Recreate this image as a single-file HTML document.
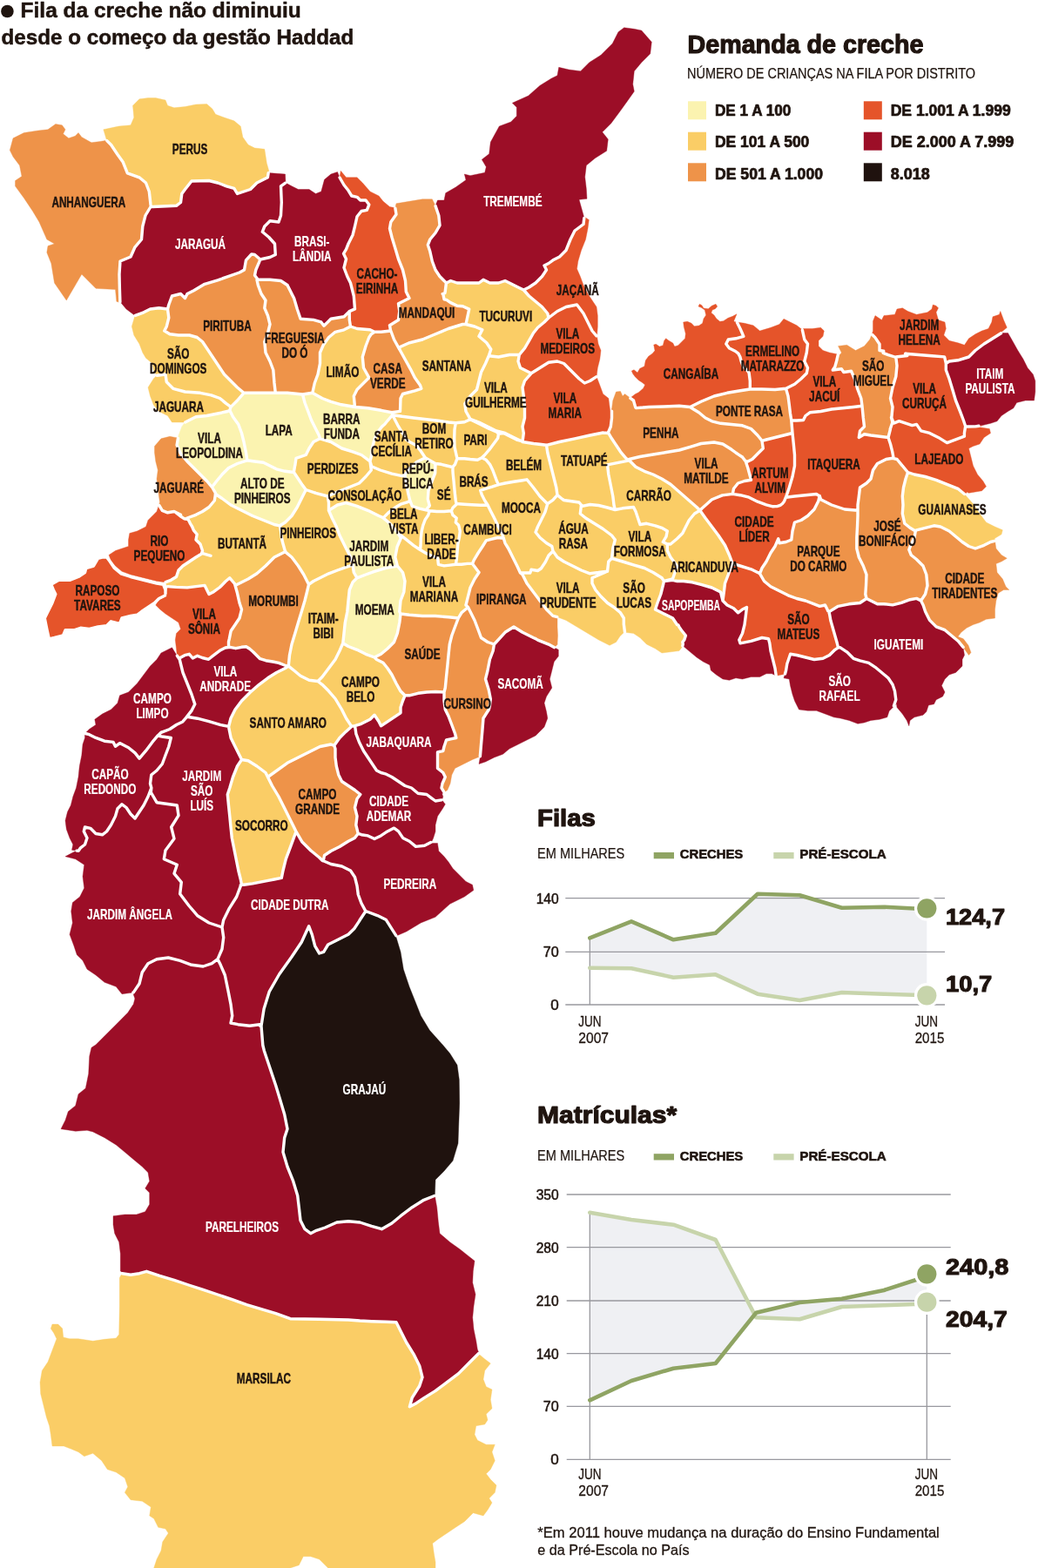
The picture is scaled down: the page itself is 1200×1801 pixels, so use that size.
<!DOCTYPE html>
<html lang="pt-BR">
<head>
<meta charset="utf-8">
<title>Demanda de creche</title>
<style>
html,body{margin:0;padding:0;background:#fff}
body{width:1200px;height:1801px;overflow:hidden}
svg{display:block}
text{font-family:"Liberation Sans",sans-serif;fill:#1f140f}
.d{stroke:#fff;stroke-width:3.4;stroke-linejoin:round;stroke-linecap:round}
.y1{fill:#FBF3B0;stroke:#FBF3B0;stroke-width:0.4px;stroke-linejoin:round}
.y2{fill:#FACD66;stroke:#FACD66;stroke-width:0.4px;stroke-linejoin:round}
.or{fill:#EE9349;stroke:#EE9349;stroke-width:0.4px;stroke-linejoin:round}
.ro{fill:#E5542A;stroke:#E5542A;stroke-width:0.4px;stroke-linejoin:round}
.dr{fill:#9C0E27;stroke:#9C0E27;stroke-width:0.4px;stroke-linejoin:round}
.bk{fill:#1F120E;stroke:#1F120E;stroke-width:0.4px;stroke-linejoin:round}
.l{font-weight:bold;font-size:17.1px;stroke:#1f140f;stroke-width:0.45px}
.w{fill:#fff;stroke:#fff;stroke-width:0.2px}
</style>
</head>
<body>
<svg width="1200" height="1801" viewBox="0 0 1200 1801">
<rect width="1200" height="1801" fill="#fff"/>
<g id="map">
<path class="or" d="M93.8,157.5 90.0,152.5 86.3,156.3 78.8,158.8 72.5,153.8 75.0,148.8 71.3,143.8 63.8,142.5 55.0,148.8 43.8,150.0 27.5,152.5 15.0,158.8 11.3,172.5 15.0,180.0 22.5,190.0 25.0,202.5 17.5,207.5 17.5,213.8 27.5,227.5 37.5,242.5 45.0,255.0 53.8,275.0 62.5,280.0 55.0,282.5 53.8,290.0 58.8,302.5 62.5,325.0 76.3,345.0 93.8,315.0 110.0,331.3 132.5,332.5 133.8,346.3 137.9,347.5 137.4,332.0 137.0,315.0 138.0,300.0 150.0,295.0 155.0,283.8 162.5,275.0 163.8,260.0 167.0,247.5 173.3,237.0 173.0,235.0 171.3,220.0 167.5,210.0 160.0,203.8 146.3,198.8 141.3,186.3 135.0,177.5 127.5,166.3 122.5,161.3 115.0,162.5 105.0,163.8Z"/>
<path class="y2" d="M303.8,171.3 292.5,170.0 285.0,166.3 278.8,157.5 276.3,145.0 268.8,138.8 257.5,135.0 247.5,131.3 243.8,125.0 237.5,119.5 225.0,120.0 212.5,122.5 200.0,123.8 192.5,121.3 190.0,115.0 178.8,112.5 170.0,112.5 160.0,113.8 152.5,121.3 153.8,135.0 150.0,143.8 136.3,145.0 118.8,148.8 122.5,161.3 127.5,166.3 135.0,177.5 141.3,186.3 146.3,198.8 160.0,203.8 167.5,210.0 171.3,220.0 173.0,235.0 173.3,237.0 175.0,237.5 202.5,236.3 207.5,232.5 208.8,222.5 212.5,217.5 220.0,208.0 240.0,207.5 250.0,210.0 260.0,213.8 268.8,216.3 272.5,222.5 287.5,217.5 295.0,210.0 307.4,203.8 308.3,198.4 308.8,196.3 306.3,187.5Z"/>
<path class="dr" d="M272.5,222.5 268.8,216.3 260.0,213.8 250.0,210.0 240.0,207.5 220.0,208.0 212.5,217.5 208.8,222.5 207.5,232.5 202.5,236.3 175.0,237.5 173.3,237.0 167.0,247.5 163.8,260.0 162.5,275.0 155.0,283.8 150.0,295.0 138.0,300.0 137.0,315.0 137.5,332.0 137.9,347.6 139.1,347.9 145.0,355.0 155.0,362.5 165.0,358.8 172.5,355.0 182.5,353.8 192.5,355.0 193.8,350.0 197.5,340.0 207.5,337.5 212.5,342.5 215.0,337.5 222.5,333.8 235.0,326.3 250.0,321.8 275.0,313.0 280.5,310.0 282.5,298.8 288.8,292.0 292.5,292.5 298.8,298.0 310.0,295.5 316.3,292.5 315.5,280.0 308.8,272.5 301.3,266.3 303.8,260.0 310.0,253.8 320.0,255.0 322.5,247.5 323.3,232.5 322.5,213.8 328.0,210.0 327.5,200.0 311.4,198.8 308.3,198.4 307.4,203.8 295.0,210.0 287.5,217.5Z"/>
<path class="dr" d="M368.8,220.0 362.5,222.5 355.0,217.5 342.5,217.5 335.0,213.8 328.0,210.0 322.5,213.8 323.3,232.5 322.5,247.5 320.0,255.0 310.0,253.8 303.8,260.0 301.3,266.3 308.8,272.5 315.5,280.0 316.3,292.5 310.0,295.5 298.8,298.0 297.5,301.3 293.8,310.0 292.5,316.3 296.3,321.3 310.0,321.3 322.5,322.5 326.7,325.3 330.0,327.5 331.3,330.0 334.8,337.1 337.6,342.5 341.3,355.0 345.1,366.2 360.0,367.4 368.8,369.9 372.0,374.2 376.3,370.0 380.0,366.3 395.0,363.8 401.2,357.6 407.5,354.9 406.3,340.0 402.5,325.0 398.8,317.5 395.0,307.5 397.5,297.5 394.5,291.3 397.5,286.3 400.0,280.0 405.0,270.0 407.5,260.0 410.0,248.8 415.0,242.5 421.3,241.3 423.8,235.0 420.0,230.0 413.8,230.0 410.0,226.3 403.8,225.0 400.0,218.8 395.0,212.5 390.0,203.8 387.5,197.5 380.0,200.0 372.5,206.3Z"/>
<path class="ro" d="M416.3,210.0 410.0,203.8 397.5,203.8 391.3,196.3 390.0,203.8 395.0,212.5 400.0,218.8 403.8,225.0 410.0,226.3 413.8,230.0 420.0,230.0 423.8,235.0 421.3,241.3 415.0,242.5 410.0,248.8 407.5,260.0 405.0,270.0 400.0,280.0 397.5,286.3 394.5,291.3 397.5,297.5 395.0,307.5 398.8,317.5 402.5,325.0 406.3,340.0 407.5,354.9 401.2,357.4 401.3,367.5 402.5,375.0 410.0,377.5 425.0,378.8 429.9,381.2 437.5,381.3 448.6,380.0 448.5,379.6 447.5,373.8 457.5,367.5 458.8,357.5 457.5,348.8 470.0,342.5 466.3,335.0 465.5,322.5 462.5,310.0 457.5,297.5 453.8,285.0 450.0,272.5 447.5,262.5 448.8,255.0 455.0,246.3 453.8,238.8 447.5,237.5 440.0,231.3 435.0,225.0 425.0,220.0Z"/>
<path class="or" d="M453.8,238.8 455.0,246.3 448.8,255.0 447.5,262.5 450.0,272.5 453.8,285.0 457.5,297.5 462.5,310.0 465.5,322.5 466.3,335.0 470.0,342.5 457.5,348.8 458.8,357.5 457.5,367.5 447.5,373.8 448.6,379.5 448.6,380.0 452.5,390.0 458.8,401.3 458.8,398.8 470.0,393.8 470.5,393.6 485.0,390.0 500.0,383.8 515.0,377.5 531.1,372.5 535.0,372.5 538.7,355.1 531.4,351.8 525.0,351.3 517.4,347.6 512.7,344.4 510.0,343.8 508.8,337.6 508.3,337.8 508.2,337.6 510.9,336.7 511.2,335.0 512.4,324.9 505.0,317.5 500.0,310.0 496.3,300.0 493.8,288.8 491.3,281.3 493.8,275.0 500.0,267.5 505.0,258.8 503.8,247.5 500.0,236.3 496.3,228.8 485.0,228.8 470.0,231.3 455.0,233.8Z"/>
<path class="dr" d="M673.3,216.7 671.7,203.3 673.3,190.0 683.3,181.7 696.7,173.3 698.3,160.0 691.7,151.7 701.7,141.7 711.7,128.3 720.0,116.7 728.3,105.0 726.7,96.7 728.3,81.7 736.7,71.7 746.7,61.7 748.3,48.3 736.7,35.0 728.3,33.3 716.7,31.7 710.0,36.7 703.3,50.0 690.0,63.3 676.7,71.7 666.7,81.7 653.3,80.0 641.7,77.3 640.0,86.7 633.3,90.0 620.0,98.3 606.7,110.0 588.3,118.3 593.3,123.3 593.3,133.3 586.7,140.0 573.3,145.0 563.3,163.3 561.7,176.7 553.3,183.3 558.3,191.7 556.7,198.3 540.0,201.7 533.3,200.0 535.0,206.7 523.3,215.0 511.7,221.7 510.0,230.0 502.5,230.0 500.0,236.3 503.8,247.5 505.0,258.8 500.0,267.5 493.8,275.0 491.3,281.3 493.8,288.8 496.3,300.0 500.0,310.0 505.0,317.5 512.4,324.9 512.5,324.5 512.6,325.0 517.5,322.5 525.0,325.0 537.5,325.0 550.0,325.0 555.0,321.3 562.5,325.0 572.5,325.0 580.0,322.5 585.0,325.0 595.0,330.0 601.3,333.0 607.5,330.0 615.0,325.0 622.5,317.5 627.5,310.0 625.0,305.0 630.0,302.5 635.0,298.8 642.5,295.0 650.0,287.5 655.0,275.0 660.0,265.0 670.0,257.5 670.8,250.0 665.0,229.3 674.0,228.3Z"/>
<path class="y2" d="M512.7,344.4 517.4,347.6 525.0,351.3 531.4,351.8 538.7,355.1 535.0,372.5 545.0,375.0 553.8,378.8 550.0,386.2 558.8,393.8 563.8,401.3 561.3,408.8 572.5,410.0 585.0,407.5 596.3,407.5 602.5,400.0 607.5,391.3 612.5,382.5 617.5,376.3 625.0,370.0 630.0,365.0 628.8,360.0 622.5,352.5 615.0,346.3 607.5,340.0 601.3,333.0 595.0,330.0 585.0,325.0 580.0,322.5 572.5,325.0 562.5,325.0 555.0,321.3 550.0,325.0 537.5,325.0 525.0,325.0 517.5,322.5 512.6,325.0 512.6,324.5 511.2,335.0 510.9,336.7 508.2,337.6 508.3,337.8 508.8,337.6 510.0,343.8Z"/>
<path class="ro" d="M685.0,352.5 680.0,345.0 675.0,337.5 670.0,327.5 666.3,317.5 662.5,308.8 663.8,300.0 667.5,287.5 672.5,275.0 675.0,262.5 676.3,252.5 672.5,250.0 670.8,250.0 670.0,257.5 660.0,265.0 655.0,275.0 650.0,287.5 642.5,295.0 635.0,298.8 630.0,302.5 625.0,305.0 627.5,310.0 622.5,317.5 615.0,325.0 607.5,330.0 601.3,333.0 607.5,340.0 615.0,346.3 622.5,352.5 628.8,360.0 630.0,365.0 640.0,357.5 650.0,352.5 662.5,350.0 670.0,360.0 675.0,370.0 680.0,380.0 685.5,386.3 686.3,375.0 686.3,362.5Z"/>
<path class="ro" d="M690.0,402.5 687.0,395.0 685.5,386.3 680.0,380.0 675.0,370.0 670.0,360.0 662.5,350.0 650.0,352.5 640.0,357.5 630.0,365.0 625.0,370.0 617.5,376.3 612.5,382.5 607.5,391.3 602.5,400.0 596.3,407.5 595.0,415.0 597.5,422.5 605.0,426.3 610.0,428.8 620.0,422.5 630.0,416.3 640.0,415.0 647.5,417.5 657.5,427.5 665.0,435.0 671.3,440.0 677.5,437.5 685.0,432.5 686.3,422.5 688.8,412.5Z"/>
<path class="ro" d="M685.0,432.5 677.5,437.5 671.3,440.0 665.0,435.0 657.5,427.5 647.5,417.5 640.0,415.0 630.0,416.3 620.0,422.5 610.0,428.8 602.5,437.5 600.0,445.0 601.3,455.0 602.5,467.5 602.5,480.0 600.0,490.0 601.3,497.5 600.0,507.5 612.5,509.5 619.7,510.3 627.5,511.3 642.5,507.5 660.0,503.8 677.5,500.0 692.5,497.0 698.2,497.5 698.7,496.1 701.3,490.0 702.5,480.0 702.5,470.0 702.6,469.5 702.2,471.9 700.7,471.9 700.0,467.0 698.8,457.5 692.5,452.5 688.8,442.5Z"/>
<path class="or" d="M297.5,301.3 298.8,298.0 292.5,292.5 288.8,292.0 282.5,298.8 280.5,310.0 275.0,313.0 250.0,321.8 235.0,326.3 222.5,333.8 215.0,337.5 212.5,342.5 207.5,337.5 197.5,340.0 193.8,350.0 192.5,355.0 193.8,365.0 191.3,375.0 188.8,380.0 195.0,383.8 205.0,385.0 217.5,385.0 226.3,387.5 232.5,392.5 237.5,400.0 242.5,407.5 247.5,415.0 252.5,422.5 257.5,430.0 265.0,437.5 272.5,445.0 280.0,451.3 292.5,451.3 305.0,451.3 316.3,451.3 315.0,440.0 313.8,425.0 310.0,415.0 305.0,405.0 303.8,392.5 307.5,382.5 310.0,372.5 307.5,362.5 303.8,353.8 305.0,345.0 300.0,337.5 296.3,327.5 295.0,321.3 296.3,321.3 292.5,316.3 293.8,310.0Z"/>
<path class="or" d="M341.3,355.0 337.6,342.5 334.9,337.0 330.0,327.5 322.5,322.5 310.0,321.3 295.0,321.3 296.3,327.5 300.0,337.5 305.0,345.0 303.8,353.8 307.5,362.5 310.0,372.5 307.5,382.5 303.8,392.5 305.0,405.0 310.0,415.0 313.8,425.0 315.0,440.0 316.3,451.3 329.5,451.3 330.0,451.3 347.5,453.0 358.8,451.3 361.3,440.0 365.0,430.0 367.5,417.5 367.5,405.0 371.3,396.3 377.5,387.5 385.0,381.3 395.0,378.8 402.5,375.0 401.3,367.5 401.3,357.5 395.0,363.8 380.0,366.3 376.3,370.0 372.0,374.2 368.8,369.9 360.0,367.4 345.1,366.2Z"/>
<path class="y2" d="M402.5,375.0 395.0,378.8 385.0,381.3 377.5,387.5 371.3,396.3 367.5,405.0 367.5,417.5 365.0,430.0 361.3,440.0 358.8,451.3 370.0,457.5 380.0,461.3 392.0,464.8 407.5,467.4 406.3,455.0 410.0,447.5 417.5,440.0 423.8,433.8 417.5,422.5 416.3,410.0 420.0,397.5 423.8,387.5 426.3,383.8 430.0,381.3 425.0,378.8 410.0,377.5Z"/>
<path class="y2" d="M257.5,430.0 252.5,422.5 247.5,415.0 242.5,407.5 237.5,400.0 232.5,392.5 226.3,387.5 217.5,385.0 205.0,385.0 195.0,383.8 188.8,380.0 191.3,375.0 193.8,365.0 192.5,355.0 182.5,353.8 172.5,355.0 165.0,358.8 155.0,362.5 151.3,375.0 153.8,385.0 160.0,395.0 163.8,405.0 167.5,411.3 175.0,417.5 176.3,425.0 180.0,431.3 190.0,430.0 191.3,438.8 198.8,446.3 212.5,450.0 230.0,451.3 242.5,453.8 252.5,457.5 259.6,463.4 265.1,467.4 272.5,460.0 280.0,451.3 272.5,445.0 265.0,437.5Z"/>
<path class="y2" d="M230.0,451.3 212.5,450.0 198.8,446.3 191.3,438.8 190.0,430.0 180.0,431.3 176.3,435.0 170.0,445.0 172.5,455.0 176.3,465.0 182.5,472.5 192.5,477.5 197.5,485.0 209.8,485.0 212.4,485.1 225.0,478.8 225.3,478.7 237.5,477.5 250.0,475.0 261.3,472.5 263.8,471.3 265.0,467.5 259.7,463.4 252.5,457.5 242.5,453.8Z"/>
<path class="y1" d="M305.0,451.3 292.5,451.3 280.0,451.3 272.5,460.0 265.0,467.5 263.8,471.3 267.5,478.8 273.8,487.5 277.5,497.5 280.0,507.5 282.5,520.0 283.8,528.8 292.5,530.0 302.5,531.3 310.0,535.0 317.5,538.8 327.5,541.3 337.4,542.5 338.7,534.5 338.8,534.7 340.0,526.3 351.3,522.5 355.0,515.0 360.0,507.5 367.5,503.8 366.3,500.0 362.5,492.5 357.5,482.5 353.8,472.5 350.0,462.5 347.5,453.0 330.0,451.3 316.3,451.3Z"/>
<path class="y1" d="M273.8,487.5 267.5,478.8 263.8,471.3 261.3,472.5 250.0,475.0 237.5,477.5 225.0,478.8 212.5,485.0 208.8,490.0 205.0,500.0 204.4,503.0 203.1,511.3 207.5,521.3 215.0,530.0 222.5,537.5 230.0,545.0 237.5,552.5 243.4,559.5 248.8,552.5 255.0,545.0 262.5,537.5 272.5,532.5 283.8,528.8 282.5,520.0 280.0,507.5 277.5,497.5Z"/>
<path class="or" d="M437.5,381.3 430.0,381.3 426.3,383.8 423.8,387.5 420.0,397.5 416.3,410.0 417.5,422.5 423.8,433.8 417.5,440.0 410.0,447.5 406.3,455.0 407.5,467.4 408.0,467.5 422.5,468.8 437.5,471.3 449.9,473.7 459.5,472.4 460.0,457.5 462.5,452.5 476.3,448.8 483.8,446.3 482.5,442.5 476.3,433.8 471.3,423.8 465.0,412.5 458.8,401.3 452.5,390.0 448.8,380.0Z"/>
<path class="y2" d="M553.8,378.8 545.0,375.0 535.0,372.5 531.3,372.5 515.0,377.5 500.0,383.8 485.0,390.0 470.0,393.8 458.8,398.8 458.8,401.3 465.0,412.5 471.3,423.8 476.3,433.8 482.5,442.5 483.8,446.3 476.3,448.8 462.5,452.5 460.0,457.5 459.5,472.4 449.9,473.7 451.0,476.7 461.7,478.3 475.0,480.0 490.0,481.7 503.3,483.3 515.0,485.0 523.3,485.8 533.3,484.7 540.0,481.7 546.7,485.0 553.3,488.3 561.7,492.5 570.0,495.8 572.5,498.3 578.3,497.5 586.7,501.7 593.3,505.0 597.2,506.1 590.0,502.5 580.0,497.5 570.0,495.0 560.0,490.0 550.0,485.0 540.0,481.3 535.0,472.5 533.8,463.8 540.0,455.0 547.5,447.5 550.0,437.5 552.5,427.5 557.5,417.5 561.3,408.8 563.8,401.3 558.8,393.8 550.0,386.3Z"/>
<path class="y2" d="M602.5,480.0 602.5,467.5 601.3,455.0 600.0,445.0 602.5,437.5 610.0,428.8 605.0,426.3 597.5,422.5 595.0,415.0 596.3,407.5 585.0,407.5 572.5,410.0 561.3,408.8 557.5,417.5 552.5,427.5 550.0,437.5 547.5,447.5 540.0,455.0 533.8,463.8 535.0,472.5 540.0,481.3 550.0,485.0 560.0,490.0 570.0,495.0 580.0,497.5 590.0,502.5 597.2,506.1 599.2,506.7 600.0,507.5 601.3,497.5 600.0,490.0Z"/>
<path class="y1" d="M380.0,461.3 370.0,457.5 358.8,451.3 347.5,453.0 350.0,462.5 353.8,472.5 357.5,482.5 362.5,492.5 366.3,500.0 367.5,503.8 380.0,507.5 392.5,515.0 405.0,518.8 415.0,522.5 424.9,529.9 426.2,525.0 427.4,515.0 429.9,505.0 433.7,496.2 438.7,489.9 441.8,487.3 445.0,483.3 450.8,476.7 450.0,473.8 437.5,471.3 422.5,468.8 408.0,467.5 392.0,464.8Z"/>
<path class="y2" d="M426.2,525.0 424.9,529.9 426.7,535.8 436.7,540.0 450.0,544.2 461.7,546.7 465.0,545.0 470.0,538.3 478.3,530.8 488.3,525.8 483.3,518.3 478.3,511.7 471.7,508.3 466.7,505.0 461.7,496.7 456.7,488.3 453.3,481.7 450.8,476.7 445.0,483.3 441.8,487.3 438.7,489.9 433.7,496.2 429.9,505.0 427.4,515.0Z"/>
<path class="y2" d="M490.0,481.7 475.0,480.0 461.7,478.3 450.8,476.7 453.3,481.7 456.7,488.3 461.7,496.7 466.7,505.0 471.7,508.3 478.3,511.7 483.3,518.3 488.3,525.8 500.0,532.5 506.7,533.3 513.3,535.0 519.7,536.6 522.5,533.3 525.0,526.7 524.2,523.3 522.0,513.3 521.7,503.3 522.0,493.3 523.3,485.8 515.0,485.0 503.3,483.3Z"/>
<path class="y2" d="M553.3,488.3 546.7,485.0 540.0,481.7 533.3,484.7 523.3,485.8 522.0,493.3 521.7,503.3 522.0,513.3 524.2,523.3 525.0,526.7 533.3,526.7 540.0,527.5 548.3,528.3 553.3,525.8 556.7,522.5 561.7,516.7 566.7,510.0 571.7,503.3 572.5,498.3 570.0,495.8 561.7,492.5Z"/>
<path class="y2" d="M533.3,526.7 525.0,526.7 522.5,533.3 519.7,536.6 520.0,536.7 519.9,539.5 520.1,543.3 521.0,552.2 521.7,560.0 522.5,568.3 523.3,575.0 524.2,579.2 526.7,578.7 533.3,579.2 541.7,579.7 551.7,580.3 560.0,580.0 556.7,575.0 553.3,568.3 551.7,563.3 556.7,561.7 565.0,559.2 572.5,556.7 570.8,553.3 568.3,546.7 565.8,540.0 562.5,533.3 558.3,528.3 553.3,525.8 548.3,528.3 540.0,527.5Z"/>
<path class="y2" d="M519.9,539.5 520.0,536.7 513.3,535.0 506.7,533.3 500.0,532.5 499.7,543.3 495.8,553.3 492.0,563.3 491.3,573.3 493.3,580.8 489.2,585.8 493.3,586.7 501.7,587.5 510.0,587.5 518.3,586.7 520.0,583.3 524.2,579.2 523.3,575.0 522.5,568.3 521.7,560.0 520.9,552.2 520.1,543.3Z"/>
<path class="y1" d="M492.0,563.3 495.8,553.3 499.7,543.3 500.0,532.5 488.3,525.8 478.3,530.8 470.0,538.3 465.0,545.0 465.8,552.5 467.5,560.0 468.7,566.7 470.8,575.0 473.3,581.3 481.7,584.2 489.2,585.8 493.3,580.8 491.3,573.3Z"/>
<path class="y2" d="M456.4,611.4 458.4,613.3 466.7,619.9 475.1,626.6 482.5,631.6 483.0,626.7 483.3,618.3 484.2,610.0 485.8,603.3 488.3,596.7 491.7,591.7 493.3,586.7 489.2,585.8 481.7,584.2 473.3,581.3 470.8,575.0 468.3,576.7 460.0,579.2 453.3,583.3 446.7,588.3 440.1,594.9 448.3,601.8Z"/>
<path class="y2" d="M493.3,586.7 491.7,591.7 488.3,596.7 485.8,603.3 484.2,610.0 483.3,618.3 483.0,626.7 482.5,631.6 488.4,634.9 495.0,638.2 502.6,640.8 503.4,648.3 510.0,649.9 516.7,649.1 523.3,648.2 524.2,643.3 525.0,635.0 525.8,625.0 527.5,616.7 528.3,610.0 526.7,603.3 523.3,600.0 524.2,595.0 520.0,591.7 518.3,586.7 510.0,587.5 501.7,587.5Z"/>
<path class="y2" d="M533.3,579.2 526.7,578.7 524.2,579.2 520.0,583.3 518.3,586.7 520.0,591.7 524.2,595.0 523.3,600.0 526.7,603.3 528.3,610.0 527.5,616.7 525.8,625.0 525.0,635.0 524.2,643.3 523.4,648.2 530.0,648.2 536.7,647.4 542.5,647.4 544.2,643.3 549.2,635.0 554.2,627.5 558.3,620.8 565.0,619.2 571.7,617.5 578.3,618.3 576.7,613.3 573.3,606.7 570.0,600.0 566.7,593.3 563.3,586.7 560.0,580.0 551.7,580.3 541.7,579.7Z"/>
<path class="y2" d="M380.0,507.5 367.5,503.8 360.0,507.5 355.0,515.0 351.3,522.5 340.0,526.3 338.8,534.7 338.7,534.5 337.4,542.5 342.5,550.0 347.2,557.1 351.3,562.5 362.5,566.3 376.3,570.0 387.5,565.0 400.0,560.0 412.5,555.0 420.0,547.5 426.3,540.0 425.0,530.0 415.0,522.5 405.0,518.8 392.5,515.0Z"/>
<path class="y2" d="M460.0,579.2 468.3,576.7 470.8,575.0 468.7,566.7 467.5,560.0 465.8,552.5 465.0,545.0 461.7,546.7 450.0,544.2 436.7,540.0 426.7,535.8 425.0,530.0 426.3,540.0 420.0,547.5 412.5,555.0 400.0,560.0 387.5,565.0 376.3,570.0 377.5,577.5 377.5,586.3 387.5,580.0 397.5,577.5 410.0,581.3 422.5,586.3 435.0,592.5 439.3,594.3 440.1,594.9 446.7,588.3 453.3,583.3Z"/>
<path class="y1" d="M347.3,557.0 342.5,550.0 337.5,542.5 327.5,541.3 317.5,538.8 310.0,535.0 302.5,531.3 292.5,530.0 283.8,528.8 272.5,532.5 262.5,537.5 255.0,545.0 248.8,552.5 243.4,559.5 243.8,560.0 247.5,566.3 247.2,568.7 247.5,567.5 255.0,572.5 265.0,580.0 277.5,586.3 290.0,592.5 302.5,597.5 315.0,602.5 321.3,603.8 327.5,600.0 335.0,592.5 341.3,582.5 346.0,572.9 346.3,572.5 351.3,562.5Z"/>
<path class="y2" d="M362.5,566.3 351.3,562.5 346.3,572.5 341.3,582.5 335.0,592.5 327.5,600.0 321.3,603.8 322.5,610.0 323.7,619.5 325.1,625.0 327.6,633.6 327.9,633.5 327.6,633.8 335.0,640.0 342.5,650.0 348.8,660.0 354.5,671.3 360.0,667.5 367.5,663.8 377.5,658.8 387.5,655.0 397.5,651.3 405.0,648.8 402.5,640.0 397.5,630.0 393.8,622.5 390.0,615.0 386.3,605.0 381.3,595.0 377.5,586.3 377.5,577.5 376.3,570.0Z"/>
<path class="y1" d="M439.3,594.3 435.0,592.5 422.5,586.3 410.0,581.3 397.5,577.5 387.5,580.0 377.5,586.3 381.3,595.0 386.3,605.0 390.0,615.0 393.8,622.5 397.5,630.0 402.5,640.0 405.0,648.8 406.3,657.5 410.0,663.8 420.0,660.0 430.0,656.3 442.5,652.5 456.3,650.0 453.8,640.0 456.1,628.0 460.4,618.0 456.4,611.4 448.3,601.8Z"/>
<path class="y1" d="M410.0,663.8 405.0,668.8 401.3,677.5 400.0,690.0 398.8,702.5 396.3,715.0 395.0,727.5 393.8,738.8 400.0,742.5 410.0,746.3 420.0,751.3 430.0,755.0 437.5,751.3 445.0,745.0 452.5,737.5 456.3,727.5 458.8,715.0 460.0,705.0 458.8,702.5 460.0,690.0 463.8,680.0 465.0,667.5 462.5,657.5 456.3,650.0 442.5,652.5 430.0,656.3 420.0,660.0Z"/>
<path class="y2" d="M398.8,702.5 400.0,690.0 401.3,677.5 405.0,668.8 410.0,663.8 406.3,657.5 405.0,648.8 397.5,651.3 387.5,655.0 377.5,658.8 367.5,663.8 360.0,667.5 354.5,671.3 352.5,680.0 350.0,690.0 346.3,702.5 342.5,715.0 338.8,727.5 335.0,740.0 332.5,752.5 331.3,764.9 331.6,764.9 331.3,765.1 337.5,770.0 345.0,776.3 355.0,781.3 365.0,782.5 370.0,777.5 377.5,767.5 385.0,757.5 390.0,747.5 393.8,738.8 395.0,727.5 396.3,715.0Z"/>
<path class="or" d="M264.0,743.3 270.7,744.7 277.3,743.3 282.7,742.7 286.7,745.3 290.7,748.7 294.7,752.7 298.7,756.7 305.3,758.7 313.3,760.0 320.0,761.3 326.7,764.0 329.2,764.9 331.3,764.9 332.5,752.5 335.0,740.0 338.8,727.5 342.5,715.0 346.3,702.5 350.0,690.0 352.5,680.0 354.5,671.3 348.8,660.0 342.5,650.0 335.0,640.0 327.6,633.9 327.7,634.2 327.4,633.8 315.0,640.0 305.0,650.0 295.0,658.8 285.0,665.0 275.0,670.0 270.1,672.5 272.5,681.3 275.0,692.5 277.5,700.0 275.0,710.0 270.0,717.5 265.1,724.8 263.4,733.4 262.5,737.1 262.5,743.5Z"/>
<path class="y2" d="M453.8,640.0 456.3,650.0 462.5,657.5 465.0,667.5 463.8,680.0 460.0,690.0 458.8,702.5 460.0,705.0 470.0,706.3 485.0,707.5 500.0,707.5 515.0,708.8 526.3,710.0 529.8,704.0 530.0,703.8 537.5,697.5 535.0,695.0 537.5,685.0 540.0,675.0 545.0,665.0 549.9,657.6 542.5,647.5 536.7,647.4 530.0,648.2 523.3,648.2 516.7,649.1 510.0,649.9 503.4,648.3 502.6,640.8 495.0,638.2 488.4,634.9 482.6,631.6 475.1,626.6 466.7,619.9 458.4,613.3 456.5,611.3 460.4,618.0 456.0,627.9Z"/>
<path class="or" d="M470.0,706.3 460.0,705.0 458.8,715.0 456.3,727.5 452.5,737.5 445.0,745.0 437.5,751.3 430.0,755.0 432.5,757.5 440.0,761.3 445.0,767.5 450.0,775.0 455.0,785.0 460.0,793.8 464.9,798.7 470.0,798.8 480.0,796.3 490.0,795.0 500.0,794.5 510.0,795.0 511.3,790.0 512.5,777.5 513.8,765.0 515.0,752.5 516.3,740.0 518.8,730.0 522.5,720.0 526.3,710.0 515.0,708.8 500.0,707.5 485.0,707.5Z"/>
<path class="y2" d="M450.0,775.0 445.0,767.5 440.0,761.3 432.5,757.5 430.0,755.0 420.0,751.3 410.0,746.3 400.0,742.5 393.8,738.8 390.0,747.5 385.0,757.5 377.5,767.5 370.0,777.5 365.0,782.5 370.0,786.3 377.5,793.8 385.0,802.5 392.5,815.0 397.5,825.0 403.7,834.4 407.6,833.6 415.0,831.3 425.0,826.3 430.0,821.3 435.0,828.8 437.5,833.8 445.0,828.8 452.5,823.8 460.0,818.8 460.0,812.5 462.5,805.0 465.0,798.8 460.0,793.8 455.0,785.0Z"/>
<path class="ro" d="M843.2,369.5 842.7,368.7 846.0,360.7 841.3,363.3 836.0,365.3 830.7,368.7 826.7,369.3 822.7,366.0 820.0,362.0 816.7,359.3 818.0,356.0 821.3,354.7 823.7,352.0 822.0,349.3 817.3,351.3 813.3,354.7 808.0,354.0 806.0,350.7 803.3,349.3 802.0,352.0 805.3,353.3 809.3,356.0 810.7,362.0 808.0,366.0 806.7,371.3 802.7,374.0 797.3,374.7 794.0,371.3 789.3,369.3 784.7,370.0 785.3,375.3 787.3,383.3 786.7,388.7 782.7,392.7 778.7,396.7 774.7,398.0 772.7,394.0 768.0,391.3 764.7,388.7 762.7,391.3 761.3,396.7 757.3,398.0 753.3,395.3 750.7,396.0 752.0,402.7 749.3,406.0 744.7,409.3 741.3,414.0 740.0,420.7 734.7,423.3 732.0,428.0 728.0,424.7 725.3,426.0 726.7,429.3 729.3,432.7 733.3,436.7 737.3,439.3 740.7,442.0 738.7,446.0 733.3,450.7 729.3,452.7 726.1,455.3 723.6,457.1 727.5,460.0 729.0,465.3 729.4,466.7 729.9,468.2 730.5,468.6 738.4,468.0 738.7,467.9 739.3,468.0 745.0,467.5 762.5,467.0 780.0,466.3 792.5,467.5 805.0,461.3 820.0,455.0 835.0,451.3 850.0,448.8 861.3,447.0 861.3,437.5 860.1,428.3 858.6,426.1 855.0,422.5 853.2,420.7 851.3,415.5 851.0,414.5 849.9,410.0 847.9,406.1 844.6,403.5 837.7,400.1 837.5,400.0 833.8,395.0 836.3,390.0 845.0,388.8 853.8,386.3 852.8,384.1 851.6,381.1 850.0,377.5 846.3,370.0Z"/>
<path class="ro" d="M872.5,380.0 865.0,373.8 855.0,371.3 846.3,370.0 850.0,377.5 853.8,386.3 845.0,388.8 836.3,390.0 833.8,395.0 837.5,400.0 844.5,403.5 847.9,406.1 849.9,410.0 851.0,414.5 851.2,415.4 853.2,420.7 855.0,422.4 858.6,426.1 860.1,428.3 861.3,437.5 861.3,447.0 875.0,447.0 890.0,447.5 902.5,446.3 912.5,441.3 920.0,435.0 926.3,428.8 927.5,422.5 923.8,415.0 926.3,405.0 927.5,395.0 923.8,390.0 921.3,378.8 915.0,373.8 907.5,370.0 900.0,366.3 895.0,372.5 885.0,376.3Z"/>
<path class="or" d="M850.0,448.8 835.0,451.3 820.0,455.0 805.0,461.3 792.5,467.5 796.3,470.0 802.5,473.8 810.0,480.0 817.5,483.8 827.5,486.3 840.0,487.5 852.5,488.8 862.5,492.5 870.0,500.0 875.0,506.3 880.0,505.0 890.0,502.5 900.0,500.0 909.9,497.5 908.8,483.0 907.5,475.0 906.3,465.0 905.0,455.0 902.5,446.3 890.0,447.5 875.0,447.0 861.3,447.0Z"/>
<path class="or" d="M729.9,468.2 729.5,466.6 727.5,460.0 717.5,452.5 715.0,455.0 712.5,449.5 707.5,450.0 703.8,460.0 702.5,470.0 702.5,480.0 701.3,490.0 698.8,496.1 698.2,497.5 698.8,497.5 702.5,503.8 707.5,511.3 712.5,518.8 718.8,526.3 722.5,528.8 723.8,530.0 722.5,527.5 735.0,524.5 750.0,522.0 765.0,519.5 780.0,517.0 792.5,513.3 805.0,509.5 820.0,508.0 830.0,510.0 840.0,516.3 845.0,520.0 845.4,520.3 850.0,523.3 852.5,525.0 856.3,530.0 858.8,530.0 863.8,527.5 870.0,521.3 876.3,515.0 875.0,506.3 870.0,500.0 862.5,492.5 852.5,488.8 840.0,487.5 827.5,486.3 817.5,483.8 810.0,480.0 802.5,473.8 796.3,470.0 792.5,467.5 780.0,466.3 762.5,467.0 745.0,467.5 739.3,468.0 738.7,467.9 738.4,468.0 730.5,468.6Z"/>
<path class="or" d="M820.0,508.0 805.0,509.5 792.5,513.3 780.0,517.0 765.0,519.5 750.0,522.0 735.0,524.5 722.5,527.5 723.8,530.0 727.3,533.5 730.0,536.3 740.0,541.3 750.0,545.0 760.0,550.0 770.0,556.3 780.0,565.0 790.0,573.8 800.0,582.5 803.8,586.3 806.3,583.8 817.5,573.8 829.5,568.9 841.3,567.4 842.5,561.3 847.5,555.0 855.0,552.5 862.5,551.3 858.8,537.5 856.3,530.0 852.5,525.0 845.0,520.0 840.0,516.3 830.0,510.0Z"/>
<path class="ro" d="M880.0,505.0 875.0,506.3 876.3,515.0 870.0,521.3 863.8,527.5 858.8,530.0 856.3,530.0 858.8,537.5 862.5,551.3 855.0,552.5 847.5,555.0 842.5,561.3 841.3,567.4 850.0,568.7 860.0,571.2 870.0,576.2 880.0,579.9 887.6,581.8 890.6,581.6 893.0,581.4 896.0,580.4 898.5,578.5 900.6,575.7 902.4,571.2 903.8,567.5 906.3,560.0 910.0,547.5 912.5,535.0 912.5,522.5 911.3,510.0 910.0,497.5 900.0,500.0 890.0,502.5Z"/>
<path class="y2" d="M702.5,503.8 698.8,497.5 692.5,497.0 677.5,500.0 660.0,503.8 642.5,507.5 627.5,511.3 628.8,520.0 631.3,530.0 633.8,540.0 636.3,550.0 638.8,560.0 640.0,568.6 646.0,573.5 646.2,573.6 647.5,574.5 665.0,577.0 667.5,580.0 668.8,581.3 677.5,579.5 687.5,580.5 697.5,583.0 706.3,585.5 705.0,580.0 703.8,570.0 701.3,557.5 698.8,545.0 697.5,533.8 710.0,531.3 722.5,528.8 718.8,526.3 712.5,518.8 707.5,511.3Z"/>
<path class="y2" d="M636.3,550.0 633.8,540.0 631.3,530.0 628.8,520.0 627.5,511.3 612.5,509.5 600.0,507.5 599.2,506.7 593.3,505.0 586.7,501.7 578.3,497.5 572.5,498.3 571.7,503.3 566.7,510.0 561.7,516.7 556.7,522.5 553.3,525.8 558.3,528.3 562.5,533.3 565.8,540.0 568.3,546.7 570.8,553.3 572.5,556.7 580.0,555.0 590.0,553.3 600.0,551.7 605.0,550.8 612.5,560.0 620.0,570.0 628.7,578.7 634.9,574.4 640.0,568.6 638.8,560.0Z"/>
<path class="y2" d="M605.0,550.8 600.0,551.7 590.0,553.3 580.0,555.0 572.5,556.7 565.0,559.2 556.7,561.7 551.7,563.3 553.3,568.3 556.7,575.0 560.0,580.0 563.3,586.7 566.7,593.3 570.0,600.0 573.3,606.7 576.7,613.3 578.3,618.3 580.0,623.8 583.8,630.0 588.8,640.0 593.8,650.0 597.5,658.0 608.8,658.0 610.0,654.3 617.5,655.5 621.3,653.0 626.3,645.5 630.0,638.0 635.0,633.0 633.8,627.5 627.5,623.8 620.0,617.5 615.0,611.3 617.5,605.0 621.3,597.5 626.0,588.0 628.7,578.7 620.0,570.0 612.5,560.0Z"/>
<path class="y2" d="M626.0,588.0 621.3,597.5 617.5,605.0 615.0,611.3 620.0,617.5 627.5,623.8 633.8,627.5 635.0,633.0 640.0,640.0 647.5,645.0 657.5,650.0 667.5,655.0 677.5,658.8 687.0,657.6 687.5,657.5 697.5,656.3 698.8,645.0 702.5,641.3 703.8,630.0 703.9,629.5 706.3,620.0 702.5,615.0 692.5,607.5 682.5,601.3 672.5,595.0 666.3,590.0 667.5,580.0 665.0,577.0 647.5,574.5 646.1,573.5 640.0,568.6 634.9,574.4 628.7,578.7 626.0,587.9Z"/>
<path class="y2" d="M780.0,565.0 770.0,556.3 760.0,550.0 750.0,545.0 740.0,541.3 730.0,536.3 722.5,528.8 710.0,531.3 697.5,533.8 698.8,545.0 701.3,557.5 703.8,570.0 705.0,580.0 706.3,585.5 715.0,583.8 727.5,582.5 730.0,587.5 732.5,595.0 735.0,602.5 742.5,601.3 752.5,603.8 760.0,606.3 766.3,610.0 765.0,616.3 761.3,622.5 766.3,625.0 770.0,625.0 777.5,618.8 783.8,612.5 787.5,605.0 791.3,597.5 797.5,590.0 803.8,586.3 800.0,582.5 790.0,573.8Z"/>
<path class="y2" d="M766.3,610.0 760.0,606.3 752.5,603.8 742.5,601.3 735.0,602.5 732.5,595.0 730.0,587.5 727.5,582.5 715.0,583.8 706.3,585.5 697.5,583.0 687.5,580.5 677.5,579.5 668.8,581.3 667.5,580.0 666.3,590.0 672.5,595.0 682.5,601.3 692.5,607.5 702.5,615.0 706.3,620.0 703.8,630.0 702.5,641.3 715.0,645.0 727.5,648.8 740.0,652.5 750.0,657.5 760.0,663.8 762.4,667.4 772.5,664.9 775.0,657.5 777.5,650.0 770.0,640.0 766.3,632.5 766.3,625.0 761.3,622.5 765.0,616.3Z"/>
<path class="y2" d="M787.5,605.0 783.8,612.5 777.5,618.8 770.0,625.0 766.3,625.0 766.3,632.5 770.0,640.0 777.5,650.0 775.0,657.5 772.5,664.9 762.4,667.4 772.5,666.3 777.5,667.5 785.0,667.5 795.0,668.8 805.0,671.3 817.5,675.0 827.5,680.0 830.0,690.0 831.3,680.0 832.5,670.0 836.3,660.0 838.8,652.5 839.0,652.1 841.3,647.5 837.5,637.5 832.5,626.3 825.0,615.0 817.5,605.0 810.0,595.0 803.8,586.3 797.5,590.0 791.3,597.5Z"/>
<path class="y2" d="M697.5,692.5 705.0,697.5 712.5,703.8 716.3,710.0 716.3,717.0 717.6,726.3 727.5,727.5 735.0,732.5 742.5,740.0 752.5,745.0 760.0,750.0 770.0,748.8 780.0,747.5 783.4,743.0 784.3,739.8 783.8,737.5 785.7,735.2 787.4,730.0 782.4,723.8 779.9,720.1 778.9,717.9 777.5,717.6 774.6,713.2 772.5,710.0 765.0,706.3 755.0,701.3 753.2,700.4 752.5,700.0 755.0,692.5 758.8,682.5 760.0,677.5 761.3,672.5 762.5,667.5 760.0,663.8 750.0,657.5 740.0,652.5 727.5,648.8 715.0,645.0 702.5,641.3 698.8,645.0 697.5,656.3 680.0,663.8 680.0,670.0 683.8,677.5 690.0,685.0Z"/>
<path class="y2" d="M687.5,735.0 700.0,741.3 707.5,737.5 712.0,730.8 716.6,726.2 717.6,726.4 716.3,717.0 716.3,710.0 712.5,703.8 705.0,697.5 697.5,692.5 690.0,685.0 683.8,677.5 680.0,670.0 680.0,663.8 697.5,656.3 687.5,657.5 677.5,658.8 667.5,655.0 657.5,650.0 647.5,645.0 640.0,640.0 635.0,633.0 630.0,638.0 626.3,645.5 621.3,653.0 617.5,655.5 610.0,654.3 608.8,658.0 597.5,658.0 600.0,660.0 605.0,670.0 612.5,680.0 620.0,690.0 627.5,700.0 634.9,707.4 640.1,708.7 650.0,712.5 662.5,720.0 675.0,727.5Z"/>
<path class="ro" d="M937.5,567.5 941.2,569.9 941.2,569.6 942.6,573.8 955.0,580.0 970.0,585.0 985.0,586.3 985.0,580.0 986.3,570.0 987.5,560.0 995.0,555.0 1000.0,550.0 1002.5,540.0 1007.5,532.5 1017.5,527.5 1025.0,526.3 1026.1,526.2 1024.8,519.5 1024.9,519.7 1022.5,510.0 1020.0,502.5 1010.0,501.3 1000.0,500.0 992.5,498.8 986.3,502.5 987.5,495.0 992.5,490.0 991.3,480.0 990.0,466.3 980.0,467.5 967.5,468.8 955.0,470.0 942.5,472.5 930.0,473.8 925.0,477.5 922.5,482.5 915.0,483.0 908.8,483.0 910.0,497.5 911.3,510.0 912.5,522.5 912.5,535.0 910.0,547.5 906.3,560.0 903.8,567.5 902.5,571.3 912.5,570.0 925.0,568.8Z"/>
<path class="ro" d="M945.0,402.5 940.0,397.5 940.0,391.3 945.0,386.3 946.3,380.0 942.5,376.3 932.5,377.5 922.5,377.5 921.3,378.8 923.8,390.0 927.5,395.0 926.3,405.0 923.8,415.0 927.5,422.5 926.3,428.8 920.0,435.0 912.5,441.3 902.5,446.3 905.0,455.0 906.3,465.0 907.5,475.0 908.8,483.0 915.0,483.0 922.5,482.5 925.0,477.5 930.0,473.8 942.5,472.5 955.0,470.0 967.5,468.8 980.0,467.5 990.0,466.3 988.8,457.5 985.0,447.5 981.3,435.0 977.5,426.3 968.8,427.5 966.3,423.8 956.3,425.0 958.8,421.3 961.1,413.0 962.4,407.0 952.5,405.0Z"/>
<path class="or" d="M958.8,421.3 956.3,425.0 966.3,423.8 968.8,427.5 977.5,426.3 981.3,435.0 985.0,447.5 988.8,457.5 990.0,466.3 991.3,480.0 992.5,490.0 987.5,495.0 986.3,502.5 992.5,498.8 1000.0,500.0 1010.0,501.3 1020.0,502.5 1022.4,493.0 1022.2,492.9 1024.9,485.0 1023.5,479.5 1023.8,479.8 1025.0,467.5 1022.5,457.5 1025.0,445.0 1028.8,432.5 1030.0,420.3 1030.0,420.0 1028.8,410.1 1027.8,410.1 1027.5,410.0 1020.0,407.6 1014.1,405.4 1014.7,403.2 1010.0,402.5 1010.0,395.2 1004.9,387.6 1001.2,383.9 998.8,390.0 992.5,397.5 982.5,402.5 972.5,396.3 962.5,397.5 966.3,405.0 964.7,407.3 962.4,406.9 961.0,413.0Z"/>
<path class="ro" d="M1001.1,383.8 1004.9,387.6 1010.0,395.2 1010.0,402.5 1014.7,403.2 1014.1,405.4 1020.0,407.6 1027.5,410.1 1027.8,410.1 1028.8,410.0 1039.5,408.8 1041.8,408.5 1041.8,406.5 1039.5,406.3 1070.0,408.7 1084.6,409.9 1085.1,412.1 1086.3,417.5 1090.0,415.0 1100.0,413.8 1112.5,410.0 1120.0,402.5 1130.0,395.0 1140.0,388.8 1150.0,382.5 1150.3,382.4 1148.7,382.4 1150.4,381.0 1156.3,376.3 1152.5,367.5 1148.8,357.5 1147.5,361.3 1140.0,363.8 1138.8,370.0 1135.0,377.5 1127.5,380.0 1120.0,383.8 1112.5,388.8 1107.5,396.3 1100.0,393.8 1090.0,391.3 1083.8,385.0 1086.3,377.5 1085.0,370.0 1077.5,367.5 1075.0,358.8 1077.5,353.8 1075.0,351.3 1071.3,350.0 1070.0,355.0 1065.0,358.8 1052.5,361.3 1042.5,357.5 1036.3,353.8 1030.0,355.0 1027.5,361.3 1015.0,362.5 1012.5,367.5 1005.0,362.5 1002.5,368.8 1002.5,379.4 1002.4,379.7 1002.4,380.6Z"/>
<path class="dr" d="M1145.0,483.8 1150.0,477.5 1157.5,472.5 1163.8,468.8 1167.5,462.5 1177.5,460.0 1187.5,460.0 1188.8,450.0 1188.8,437.5 1186.3,430.0 1180.0,422.5 1175.0,412.5 1168.8,402.5 1162.5,391.3 1157.5,382.5 1150.0,382.5 1140.0,388.8 1130.0,395.0 1120.0,402.5 1112.5,410.0 1100.0,413.8 1090.0,415.0 1086.3,417.5 1086.3,425.0 1090.0,435.0 1093.8,447.5 1097.5,460.0 1102.5,472.5 1106.3,482.5 1108.8,490.0 1110.0,490.0 1120.0,489.9 1128.0,488.6 1137.5,486.3Z"/>
<path class="ro" d="M1039.5,406.3 1041.8,406.5 1041.8,408.5 1039.5,408.7 1028.8,410.0 1030.0,420.0 1028.8,432.5 1025.0,445.0 1022.5,457.5 1025.0,467.5 1023.8,479.8 1026.3,486.1 1032.5,483.6 1047.5,488.6 1052.5,487.4 1057.6,494.9 1067.5,497.4 1077.5,502.4 1087.5,508.6 1107.4,501.2 1107.4,497.5 1107.6,496.1 1108.6,490.0 1106.3,482.5 1102.5,472.5 1097.5,460.0 1093.8,447.5 1090.0,435.0 1086.3,425.0 1086.3,417.5 1085.0,412.1 1084.6,409.9 1070.0,408.7 1039.5,406.1Z"/>
<path class="ro" d="M1107.6,496.1 1107.4,497.5 1107.4,501.2 1087.5,508.6 1077.5,502.4 1067.5,497.4 1057.6,494.9 1052.5,487.4 1047.5,488.6 1032.5,483.6 1026.3,486.1 1023.7,479.5 1024.9,485.0 1022.2,492.9 1022.4,493.0 1020.0,502.5 1022.5,510.0 1024.9,519.7 1024.8,519.5 1026.1,526.2 1025.2,526.3 1030.0,527.5 1035.9,534.6 1036.3,535.0 1042.5,542.5 1050.0,545.0 1062.5,547.5 1075.0,551.3 1087.5,556.3 1100.0,561.3 1107.5,567.5 1107.8,567.9 1110.5,565.3 1112.5,566.3 1120.0,565.0 1127.5,563.8 1132.5,558.8 1128.8,552.5 1122.5,545.0 1117.5,535.0 1115.0,525.0 1112.5,515.0 1117.5,512.5 1125.0,510.0 1130.0,502.5 1137.5,497.5 1136.3,492.5 1128.0,491.3 1121.7,490.3 1128.0,488.7 1120.0,489.9 1110.0,489.9 1108.6,490.0Z"/>
<path class="y2" d="M1151.3,608.8 1142.5,605.0 1132.5,600.0 1125.0,590.0 1117.5,578.8 1107.5,567.5 1100.0,561.3 1087.5,556.3 1075.0,551.3 1062.5,547.5 1050.0,545.0 1042.5,542.5 1040.0,550.0 1037.5,560.0 1036.3,570.0 1037.0,580.0 1036.3,590.0 1038.8,601.3 1045.0,606.3 1051.3,610.0 1052.5,608.8 1062.5,606.3 1072.5,603.8 1080.0,605.0 1090.0,610.0 1097.5,616.3 1105.0,622.5 1112.5,627.5 1120.0,630.0 1130.0,626.3 1137.5,622.5 1142.5,621.3 1142.2,618.4 1143.8,617.5 1150.0,613.8Z"/>
<path class="or" d="M1112.5,752.5 1115.0,749.5 1112.0,741.3 1106.3,733.8 1100.0,731.3 1103.8,726.3 1110.0,721.3 1117.5,717.5 1125.0,715.0 1132.5,711.3 1142.5,710.0 1142.5,700.0 1143.8,690.0 1146.3,681.3 1152.5,677.5 1158.8,677.5 1155.0,673.8 1151.3,665.0 1145.0,657.5 1143.8,647.5 1150.0,645.0 1156.3,641.3 1150.0,637.5 1143.8,630.0 1142.5,621.3 1137.5,622.5 1130.0,626.3 1120.0,630.0 1112.5,627.5 1105.0,622.5 1097.5,616.3 1090.0,610.0 1080.0,605.0 1072.5,603.8 1062.5,606.3 1052.5,608.8 1051.3,610.0 1050.0,617.5 1046.3,625.0 1043.8,631.3 1046.3,637.5 1052.5,642.5 1060.0,650.0 1063.8,660.0 1065.0,672.5 1062.5,682.5 1057.6,689.9 1060.1,695.0 1062.6,702.5 1067.6,712.4 1075.1,719.9 1085.1,723.7 1100.1,736.2 1106.1,743.4 1106.3,743.8Z"/>
<path class="or" d="M1002.5,540.0 1000.0,550.0 995.0,555.0 987.5,560.0 986.3,570.0 985.0,580.0 985.0,586.3 985.0,592.5 984.5,605.0 983.8,617.5 983.8,630.0 986.3,640.0 991.3,650.0 995.0,660.0 994.5,672.5 993.8,682.5 995.0,687.4 1007.5,693.7 1015.0,693.7 1025.0,694.9 1035.0,692.4 1045.0,688.7 1052.5,687.4 1057.6,689.9 1062.5,682.5 1065.0,672.5 1063.8,660.0 1060.0,650.0 1052.5,642.5 1046.3,637.5 1043.8,631.3 1046.3,625.0 1050.0,617.5 1051.3,610.0 1045.0,606.3 1038.8,601.3 1036.3,590.0 1037.0,580.0 1036.3,570.0 1037.5,560.0 1040.0,550.0 1042.5,542.5 1036.3,535.0 1030.0,527.5 1025.0,526.3 1017.5,527.5 1007.5,532.5Z"/>
<path class="dr" d="M1062.6,702.5 1060.1,695.0 1057.6,689.9 1052.5,687.4 1045.0,688.7 1035.0,692.4 1025.0,694.9 1015.0,693.7 1007.5,693.7 995.0,687.4 987.5,692.5 975.0,693.8 962.5,696.3 952.6,702.4 952.2,704.4 952.5,705.0 953.8,712.5 956.3,721.3 958.8,730.0 961.2,738.6 961.3,738.8 962.5,743.8 965.0,743.8 972.5,748.8 980.0,756.3 987.5,758.8 997.5,761.3 1005.0,766.3 1012.5,772.5 1020.0,778.8 1025.0,786.3 1027.5,793.8 1028.8,803.8 1026.3,811.0 1026.1,811.7 1025.9,812.0 1029.5,808.4 1030.0,812.5 1036.3,820.0 1041.3,827.5 1043.8,833.8 1045.0,827.5 1050.0,823.8 1060.0,821.3 1063.8,817.5 1066.3,810.0 1072.5,808.8 1075.0,803.8 1082.5,800.0 1085.0,795.0 1081.3,787.5 1085.0,780.0 1090.0,775.0 1097.5,772.5 1105.0,765.0 1105.0,757.5 1107.5,752.5 1106.3,745.2 1106.1,743.4 1100.1,736.2 1085.1,723.7 1075.1,719.9 1067.6,712.4Z"/>
<path class="dr" d="M906.3,780.0 907.5,787.5 910.0,797.5 912.5,805.0 917.5,815.0 927.5,816.3 937.5,816.3 947.5,820.0 957.5,823.8 965.0,825.0 975.0,827.5 985.0,831.3 992.5,830.0 1000.0,827.5 1010.0,826.3 1018.8,823.8 1021.1,816.7 1026.1,811.7 1026.3,811.0 1028.8,803.8 1027.5,793.8 1025.0,786.3 1020.0,778.8 1012.5,772.5 1005.0,766.3 997.5,761.3 987.5,758.8 980.0,756.3 972.5,748.8 965.0,743.8 962.5,743.8 958.8,746.3 952.5,752.5 945.0,756.3 935.0,757.5 925.0,755.0 915.0,752.5 907.6,751.3 903.8,762.5 902.6,770.0 901.4,774.3 900.0,778.8Z"/>
<path class="ro" d="M880.0,579.9 870.0,576.2 860.0,571.2 850.0,568.7 841.3,567.4 829.5,568.7 817.5,573.8 806.3,583.8 803.8,586.3 810.0,595.0 817.5,605.0 825.0,615.0 832.5,626.3 837.5,637.5 841.3,647.5 850.0,650.0 862.5,653.8 872.5,658.8 875.0,652.5 880.0,645.0 885.0,635.0 890.0,627.5 893.8,618.8 895.0,623.8 902.5,622.5 908.8,620.0 910.0,610.0 912.5,600.0 920.0,597.5 927.5,592.5 935.0,585.0 939.8,575.4 941.2,569.9 937.5,567.5 925.0,568.8 912.5,570.0 902.5,571.3 900.6,575.7 898.5,578.5 896.0,580.4 893.0,581.4 887.6,581.8Z"/>
<path class="or" d="M935.0,585.0 927.5,592.5 920.0,597.5 912.5,600.0 910.0,610.0 908.8,620.0 902.5,622.5 895.0,623.8 893.8,618.8 890.0,627.5 885.0,635.0 880.0,645.0 875.0,652.5 872.5,658.8 877.5,667.5 885.0,673.8 895.0,678.8 905.0,683.8 915.0,687.5 925.0,690.0 935.0,693.8 941.3,696.3 947.5,695.0 950.0,700.0 950.9,701.9 952.6,702.4 962.5,696.3 975.0,693.8 987.5,692.5 995.0,687.5 993.8,682.5 994.5,672.5 995.0,660.0 991.3,650.0 986.3,640.0 983.8,630.0 983.8,617.5 984.5,605.0 985.0,592.5 985.0,586.3 970.0,585.0 955.0,580.0 942.6,573.8 941.2,569.6 939.8,575.4Z"/>
<path class="ro" d="M947.5,695.0 941.3,696.3 935.0,693.8 925.0,690.0 915.0,687.5 905.0,683.8 895.0,678.8 885.0,673.8 877.5,667.5 872.5,658.8 862.5,653.8 850.0,650.0 841.3,647.5 838.8,652.5 836.3,660.0 832.5,670.0 831.3,680.0 830.0,690.0 835.0,695.0 842.5,698.8 847.5,703.8 852.5,700.0 857.5,697.5 856.3,707.5 855.0,717.5 852.5,727.5 848.8,735.0 850.0,738.8 862.5,736.3 875.0,732.5 882.5,733.8 883.8,738.8 885.0,747.5 887.5,757.5 890.0,767.5 891.3,776.3 897.4,775.0 901.4,774.3 902.6,770.0 903.8,762.5 907.6,751.3 915.0,752.5 925.0,755.0 935.0,757.5 945.0,756.3 952.5,752.5 958.8,746.3 962.5,743.8 961.3,738.8 958.8,730.0 956.3,721.3 953.8,712.5 952.5,705.0 952.2,704.4 952.6,702.4 950.9,701.9 950.0,700.0Z"/>
<path class="dr" d="M755.0,701.3 765.0,706.3 772.5,710.0 777.5,717.5 778.9,717.9 779.9,720.1 782.4,723.8 787.4,730.0 785.7,735.2 783.8,737.5 784.3,739.8 783.5,743.0 784.2,742.0 785.2,742.8 785.1,742.6 792.5,748.8 800.0,755.0 807.5,760.0 815.0,763.8 816.3,770.0 822.5,775.0 830.0,780.0 837.5,781.3 845.0,778.8 852.5,780.0 862.5,777.5 872.5,777.5 880.0,773.8 886.3,773.8 891.3,776.3 890.0,767.5 887.5,757.5 885.0,747.5 883.8,738.8 882.5,733.8 875.0,732.5 862.5,736.3 850.0,738.8 848.8,735.0 852.5,727.5 855.0,717.5 856.3,707.5 857.5,697.5 852.5,700.0 847.5,703.8 842.5,698.8 835.0,695.0 830.0,690.0 827.5,680.0 817.5,675.0 805.0,671.3 795.0,668.8 785.0,667.5 777.5,667.5 772.5,666.3 762.5,667.5 761.3,672.5 758.8,682.5 755.0,692.5 752.5,700.0Z"/>
<path class="or" d="M177.5,512.5 177.5,520.0 178.8,530.0 181.3,540.0 180.0,550.0 181.3,560.0 182.5,570.0 183.5,576.8 182.4,580.0 186.3,586.3 192.5,588.8 200.0,587.5 207.5,591.3 202.5,589.2 206.7,592.5 211.7,595.8 215.9,596.5 215.0,595.0 225.0,591.3 225.4,591.0 232.5,587.5 240.0,582.5 246.3,575.0 247.3,568.8 247.6,566.3 243.8,560.0 237.5,552.5 230.0,545.0 222.5,537.5 215.0,530.0 207.5,521.3 203.1,511.3 204.5,503.1 201.1,502.4 195.0,501.3 185.0,503.8Z"/>
<path class="ro" d="M186.3,586.3 182.5,580.0 180.0,587.5 175.0,592.5 170.0,597.5 167.5,605.0 157.5,610.0 148.8,612.5 147.5,620.0 147.5,627.5 140.0,630.0 132.5,632.5 125.0,637.5 127.5,643.8 132.5,650.0 140.0,656.3 150.0,660.0 160.0,662.5 170.0,665.0 180.0,667.5 189.3,668.7 189.4,669.0 189.9,668.9 190.1,668.7 196.3,666.3 202.5,662.5 205.0,655.0 210.0,650.0 217.5,645.0 225.0,640.0 231.3,636.3 232.5,632.5 230.0,625.0 225.0,620.0 226.2,613.8 226.0,613.5 222.4,609.2 220.7,605.0 218.2,600.9 217.7,599.6 216.3,597.2 215.9,596.5 211.7,595.8 206.7,592.5 202.5,589.2 207.5,591.3 200.0,587.5 192.5,588.8Z"/>
<path class="ro" d="M107.5,650.0 98.8,652.5 97.5,657.5 90.0,662.5 80.0,666.3 67.5,666.3 58.8,671.3 61.3,677.5 63.8,682.5 60.0,692.5 55.0,702.5 51.3,710.0 53.8,722.5 56.3,733.8 62.5,732.5 72.5,730.0 75.0,723.8 85.0,723.8 92.5,721.3 102.5,722.5 112.5,720.0 122.5,718.8 127.5,713.8 137.5,716.3 140.0,710.0 150.0,707.5 157.5,706.3 162.5,702.5 170.0,697.5 177.5,692.5 182.5,687.5 190.0,683.8 190.0,677.5 187.5,671.3 180.0,670.0 170.0,667.5 160.0,665.0 150.0,662.5 138.8,658.8 131.3,652.5 126.3,645.0 122.5,640.0 117.5,640.0 112.5,641.3Z"/>
<path class="y2" d="M222.4,609.2 226.0,613.5 226.2,613.8 225.0,620.0 230.0,625.0 232.5,632.5 231.3,636.3 225.0,640.0 217.5,645.0 210.0,650.0 205.0,655.0 202.5,662.5 196.3,666.3 190.1,668.7 189.8,668.8 192.2,673.6 202.5,674.4 215.0,674.9 235.1,672.4 240.0,682.4 245.4,679.7 252.5,674.5 258.8,668.0 263.8,663.8 269.5,670.5 270.1,672.5 275.0,670.0 285.0,665.0 295.0,658.8 305.0,650.0 315.0,640.0 327.4,633.8 327.7,634.2 325.1,625.0 323.7,619.5 322.5,610.0 321.3,603.8 315.0,602.5 302.5,597.5 290.0,592.5 277.5,586.3 265.0,580.0 255.0,572.5 247.5,567.5 246.3,575.0 240.0,582.5 232.5,587.5 225.0,591.3 215.0,595.0 217.7,599.6 218.2,600.9 220.7,605.0Z"/>
<path class="ro" d="M192.6,674.5 192.4,675.1 191.3,678.8 190.0,685.0 182.5,688.8 178.8,695.0 183.8,700.0 190.0,705.0 197.5,710.0 205.0,715.0 207.5,722.5 202.5,727.5 201.3,735.0 202.5,745.0 203.3,753.1 206.2,757.4 206.0,756.0 212.0,752.7 217.3,751.3 221.3,756.0 226.7,753.3 232.3,755.5 239.5,757.3 242.7,754.7 248.0,750.7 253.3,746.7 258.7,744.0 262.5,743.5 262.5,737.1 263.4,733.4 265.1,724.8 270.0,717.5 275.0,710.0 277.5,700.0 275.0,692.5 272.5,681.3 269.5,670.5 263.8,663.8 258.8,668.0 252.5,674.5 245.4,679.7 240.0,682.4 235.1,672.4 215.0,674.9 202.5,674.4 192.4,673.6 192.1,673.6Z"/>
<path class="dr" d="M329.2,764.9 326.7,763.9 320.0,761.3 313.3,760.0 305.3,758.7 298.7,756.7 294.7,752.7 290.7,748.7 286.7,745.3 282.7,742.7 277.3,743.3 270.7,744.7 264.0,743.3 258.7,744.0 253.3,746.7 248.0,750.7 242.7,754.7 239.5,757.3 232.3,755.5 226.7,753.3 221.3,756.0 217.3,751.3 212.0,752.7 206.0,756.0 206.2,757.4 207.5,762.5 208.2,765.2 210.0,772.5 215.0,785.0 220.0,797.5 223.7,808.7 220.0,816.3 215.5,822.3 214.8,823.3 226.7,825.2 240.0,828.6 253.4,832.6 262.6,834.4 265.0,825.0 270.0,815.0 277.5,805.0 287.5,795.0 297.5,786.3 307.5,778.8 317.5,772.5 327.1,767.7 327.5,767.5 331.3,765.0 331.6,764.9Z"/>
<path class="dr" d="M220.0,797.5 215.0,785.0 210.0,772.5 207.5,762.5 206.3,757.5 201.3,750.0 197.5,743.8 192.5,746.3 185.0,750.0 180.0,757.5 172.5,765.0 165.0,775.0 157.5,785.0 147.5,795.0 137.5,798.8 135.0,807.5 127.5,815.0 117.5,820.0 108.8,826.3 110.0,832.5 102.5,837.5 97.6,842.4 102.5,843.7 110.0,847.4 120.0,851.2 130.1,852.4 132.5,857.3 137.5,853.6 147.6,858.7 155.1,864.9 160.0,871.1 167.4,862.4 174.9,852.4 181.2,844.9 185.0,841.3 195.0,837.5 202.5,832.5 209.8,828.9 213.7,824.4 219.9,816.2 223.8,808.8Z"/>
<path class="dr" d="M95.0,855.0 93.8,867.5 91.3,880.0 90.0,892.5 87.5,905.0 83.8,915.0 81.3,925.0 77.5,932.5 75.0,942.5 76.3,952.5 80.0,962.5 83.8,970.0 82.5,976.3 88.0,977.2 90.1,977.4 92.5,973.8 97.5,970.0 100.0,962.5 96.3,955.0 97.5,950.0 103.8,951.3 110.0,957.5 117.5,958.8 122.5,955.0 127.5,947.5 132.5,937.5 135.0,928.8 140.0,923.8 145.0,927.5 150.0,935.0 155.0,940.0 160.0,932.5 165.0,925.0 170.0,915.0 173.8,905.0 172.5,900.0 173.8,890.0 180.0,885.0 186.3,877.5 190.0,867.5 193.8,857.5 196.3,847.5 188.0,846.3 187.5,846.3 181.3,845.0 174.9,852.4 167.4,862.4 160.0,871.1 155.1,864.9 147.6,858.7 137.5,853.6 132.5,857.3 130.1,852.4 120.0,851.2 110.0,847.4 102.5,843.7 97.4,842.4 97.4,843.8 97.5,847.5Z"/>
<path class="y2" d="M297.5,786.3 287.5,795.0 277.5,805.0 270.0,815.0 265.0,825.0 262.7,834.4 262.6,835.0 265.2,847.8 270.0,857.5 275.0,867.5 277.5,872.5 285.0,873.8 295.0,880.0 305.0,887.5 307.5,892.5 330.0,876.3 342.5,870.0 355.0,863.8 367.5,857.5 380.0,855.0 383.8,856.3 390.0,847.5 397.1,840.4 403.7,834.4 397.5,825.0 392.5,815.0 385.0,802.5 377.5,793.8 370.0,786.3 365.0,782.5 355.0,781.3 345.0,776.3 337.5,770.0 331.3,765.0 327.5,767.5 317.5,772.5 307.5,778.8Z"/>
<path class="y2" d="M277.5,872.5 272.5,880.0 267.5,892.5 263.8,905.0 261.3,912.5 262.5,925.0 263.8,937.5 265.0,950.0 266.3,962.5 268.8,975.0 271.3,987.5 273.8,1000.0 276.3,1010.0 277.5,1016.2 280.0,1016.2 290.0,1014.9 306.7,1011.7 315.0,1010.0 323.3,1008.3 325.0,1000.0 328.3,986.7 333.3,973.3 340.0,955.1 339.7,954.6 337.5,950.0 332.5,940.0 326.3,927.5 320.0,915.0 312.5,902.5 307.5,892.5 305.0,887.5 295.0,880.0 285.0,873.8Z"/>
<path class="or" d="M330.0,876.3 307.5,892.5 312.5,902.5 320.0,915.0 326.3,927.5 332.5,940.0 337.5,950.0 339.8,954.6 340.0,955.1 346.7,966.7 352.9,972.9 356.7,976.7 366.7,985.0 370.0,988.3 371.3,988.8 372.5,982.5 380.0,977.5 390.0,972.5 400.0,966.3 407.3,962.6 411.2,957.4 408.8,947.5 410.0,937.5 407.5,927.5 410.0,917.5 413.8,912.5 407.5,907.5 400.0,902.5 392.5,897.5 388.8,890.0 386.3,880.0 385.0,870.0 385.0,860.0 383.8,856.3 380.0,855.0 367.5,857.5 355.0,863.8 342.5,870.0Z"/>
<path class="dr" d="M470.0,798.8 465.0,798.8 462.5,805.0 460.0,812.5 460.0,818.8 452.5,823.8 445.0,828.8 437.5,833.8 435.0,828.8 430.0,821.3 425.0,826.3 415.0,831.3 407.6,833.7 408.9,842.9 412.5,852.5 417.5,862.5 422.5,870.0 427.5,877.5 432.5,885.0 437.5,887.5 442.5,888.8 450.0,892.5 457.5,897.5 465.0,902.5 472.5,905.0 480.0,911.3 490.0,912.5 495.0,916.3 500.0,920.0 507.5,918.8 508.8,915.0 507.6,911.7 510.1,910.0 507.0,905.0 508.0,900.0 511.3,892.5 508.8,887.5 502.5,882.5 502.5,872.5 502.5,863.8 508.8,862.5 510.0,857.5 512.5,850.0 517.5,848.8 523.8,847.5 522.5,842.5 518.8,832.5 515.0,822.5 511.3,815.0 510.0,805.0 510.0,795.0 500.0,794.5 490.0,795.0 480.0,796.3Z"/>
<path class="dr" d="M390.0,847.5 383.8,856.3 385.0,860.0 385.0,870.0 386.3,880.0 388.8,890.0 392.5,897.5 400.0,902.5 407.5,907.5 413.8,912.5 410.0,917.5 407.5,927.5 410.0,937.5 408.8,947.5 411.2,957.4 415.0,958.7 422.5,959.9 430.0,963.6 437.4,959.9 444.9,954.9 452.5,951.1 457.6,954.9 462.6,962.4 470.1,966.2 477.5,972.4 487.5,971.2 495.2,967.3 495.4,967.2 497.4,963.2 497.8,962.1 500.0,955.0 500.0,947.5 502.5,937.5 507.5,930.0 511.3,923.8 507.5,918.8 500.0,920.0 495.0,916.3 490.0,912.5 480.0,911.3 472.5,905.0 465.0,902.5 457.5,897.5 450.0,892.5 442.5,888.8 437.5,887.5 432.5,885.0 427.5,877.5 422.5,870.0 417.5,862.5 412.5,852.5 408.9,842.9 407.6,833.6 403.7,834.4 397.1,840.3Z"/>
<path class="dr" d="M487.5,971.2 477.5,972.4 470.1,966.2 462.6,962.4 457.6,954.9 452.5,951.1 444.9,954.9 437.4,959.9 430.0,963.6 422.5,959.9 415.0,958.7 411.2,957.4 407.3,962.6 400.0,966.3 390.0,972.5 380.0,977.5 372.5,982.5 371.3,988.8 380.0,992.5 392.5,995.0 402.5,1000.0 407.5,1007.5 410.0,1017.5 411.3,1027.5 415.0,1037.5 419.9,1046.6 433.4,1051.6 443.4,1056.6 455.1,1075.0 466.7,1070.0 483.3,1060.0 500.0,1053.3 516.7,1038.3 533.3,1030.0 543.8,1022.5 542.5,1016.3 535.0,1012.5 527.5,1005.0 520.0,997.5 515.0,990.0 510.0,983.8 503.8,977.5 502.5,968.9 502.6,968.6 495.6,968.6 495.8,968.5 494.9,968.5 495.5,967.1 495.2,967.3Z"/>
<path class="or" d="M518.8,730.0 516.3,740.0 515.0,752.5 513.8,765.0 512.5,777.5 511.3,790.0 510.0,795.0 510.0,805.0 511.3,815.0 515.0,822.5 518.8,832.5 522.5,842.5 523.8,847.5 517.5,848.8 512.5,850.0 510.0,857.5 508.8,862.5 502.5,863.8 502.5,872.5 502.5,882.5 508.8,887.5 511.3,892.5 508.0,900.0 507.0,905.0 510.0,910.0 513.8,907.5 517.0,900.0 518.8,890.0 522.5,882.5 532.5,877.5 542.5,872.5 548.6,870.0 551.3,869.1 552.5,855.0 553.2,847.0 553.8,840.0 555.0,825.0 561.3,815.0 562.4,810.5 563.3,802.8 561.3,792.5 557.5,780.0 559.9,770.5 562.4,757.5 566.2,747.5 567.4,740.0 560.0,737.5 552.5,732.5 548.8,722.5 545.0,712.5 540.0,702.5 537.5,697.5 530.0,703.8 526.3,710.0 522.5,720.0Z"/>
<path class="dr" d="M562.4,757.5 559.8,770.5 557.5,780.0 561.3,792.5 563.3,802.8 562.3,810.5 561.3,815.0 555.0,825.0 553.8,840.0 552.5,855.0 551.3,870.0 550.0,877.5 557.5,875.0 567.5,870.0 577.5,866.3 585.0,860.0 595.0,855.0 605.0,850.0 615.0,845.0 625.0,835.0 628.8,825.0 627.5,817.5 625.0,807.5 627.5,800.0 633.8,790.0 631.3,780.0 633.8,770.0 636.3,760.0 641.3,753.8 641.3,746.3 636.7,743.7 636.4,743.7 630.0,740.1 617.5,735.1 614.5,733.3 612.5,732.5 600.0,726.3 590.0,720.0 580.0,726.3 567.5,740.0 566.2,747.5Z"/>
<path class="or" d="M545.0,712.5 548.8,722.5 552.5,732.5 560.0,737.5 567.5,740.0 580.0,726.3 590.0,720.0 600.0,726.3 612.5,732.5 614.5,733.3 617.5,735.1 630.0,740.1 636.4,743.7 636.6,743.8 639.2,741.3 640.1,740.2 640.1,739.7 640.0,739.9 640.5,730.0 640.0,720.0 640.0,710.1 640.1,708.7 634.9,707.4 627.5,700.0 620.0,690.0 612.5,680.0 605.0,670.0 600.0,660.0 597.5,658.0 593.8,650.0 588.8,640.0 583.8,630.0 580.0,623.8 578.3,618.3 571.7,617.5 565.0,619.2 558.3,620.8 554.2,627.5 549.2,635.0 544.2,643.3 542.5,647.5 550.0,657.5 545.0,665.0 540.0,675.0 537.5,685.0 535.0,695.0 537.5,697.5 540.0,702.5Z"/>
<path class="dr" d="M219.9,816.2 213.7,824.4 209.8,828.9 202.5,832.5 195.0,837.5 185.0,841.3 181.3,845.0 187.5,846.3 196.3,847.5 193.8,857.5 190.0,867.5 186.3,877.5 180.0,885.0 173.8,890.0 172.5,900.0 173.8,905.0 173.3,910.0 180.0,921.7 203.3,925.0 205.0,936.7 196.7,950.0 200.0,963.3 190.0,976.7 188.3,986.7 203.3,993.3 200.0,1003.3 208.3,1013.3 206.7,1026.7 216.7,1040.0 226.7,1051.7 240.0,1060.0 255.0,1065.0 256.7,1056.7 263.3,1043.3 271.7,1030.0 276.6,1016.8 276.2,1016.8 277.5,1016.2 276.3,1010.0 273.8,1000.0 271.3,987.5 268.8,975.0 266.3,962.5 265.0,950.0 263.8,937.5 262.5,925.0 261.3,912.5 263.8,905.0 267.5,892.5 272.5,880.0 277.5,872.5 275.0,867.5 270.0,857.5 265.2,847.8 262.6,835.0 262.7,834.4 253.4,832.6 240.0,828.6 226.7,825.2 214.8,823.3 215.5,822.3 220.1,816.3Z"/>
<path class="dr" d="M86.7,986.7 96.7,993.3 95.0,1006.7 96.7,1020.0 91.7,1030.0 83.3,1036.7 81.7,1046.7 83.3,1060.0 80.0,1073.3 85.0,1086.7 88.3,1096.7 95.0,1103.3 100.0,1113.3 110.0,1120.0 120.0,1128.3 133.3,1133.3 140.0,1141.7 152.5,1140.1 152.8,1140.0 153.3,1139.9 160.1,1129.7 163.3,1116.7 170.0,1106.7 180.0,1101.7 193.3,1100.0 206.7,1103.3 220.0,1108.3 233.3,1110.0 243.3,1106.7 250.0,1101.7 255.0,1090.0 256.7,1076.7 255.0,1065.0 240.0,1060.0 226.7,1051.7 216.7,1040.0 206.7,1026.7 208.3,1013.3 200.0,1003.3 203.3,993.3 188.3,986.7 190.0,976.7 200.0,963.3 196.7,950.0 205.0,936.7 203.3,925.0 180.0,921.7 173.3,910.0 173.8,905.0 170.0,915.0 165.0,925.0 160.0,932.5 155.0,940.0 150.0,935.0 145.0,927.5 140.0,923.8 135.0,928.8 132.5,937.5 127.5,947.5 122.5,955.0 117.5,958.8 110.0,957.5 103.8,951.3 97.5,950.0 96.3,955.0 100.0,962.5 97.5,970.0 92.5,973.8 90.1,977.4 88.1,977.1 82.0,980.1 75.0,983.8Z"/>
<path class="dr" d="M276.6,1016.8 271.7,1030.0 263.3,1043.3 256.7,1056.7 255.0,1065.0 256.7,1076.7 255.0,1090.0 250.0,1101.7 253.3,1108.3 258.3,1120.0 261.7,1136.7 265.0,1153.3 266.7,1166.7 265.0,1175.0 273.3,1176.7 286.7,1178.3 298.3,1176.7 298.7,1178.4 300.0,1178.4 303.1,1158.7 309.3,1138.8 320.7,1119.0 334.8,1099.2 346.2,1082.2 354.7,1063.8 358.3,1073.3 361.7,1086.7 366.7,1095.0 371.7,1093.3 376.7,1085.0 386.7,1080.0 400.0,1073.3 406.7,1066.7 413.1,1057.1 419.9,1046.6 415.0,1037.5 411.3,1027.5 410.0,1017.5 407.5,1007.5 402.5,1000.0 392.5,995.0 380.0,992.5 371.3,988.8 370.0,988.3 366.7,985.0 356.7,976.7 346.7,966.7 340.0,955.0 333.3,973.3 328.3,986.7 325.0,1000.0 323.3,1008.3 306.7,1011.7 290.0,1015.0 280.0,1016.2 277.5,1016.2 276.2,1016.8Z"/>
<path class="bk" d="M433.4,1051.6 420.0,1046.5 413.0,1057.0 406.7,1066.7 400.0,1073.3 386.7,1080.0 376.7,1085.0 371.7,1093.3 366.7,1095.0 361.7,1086.7 358.3,1073.3 354.7,1063.8 346.2,1082.2 334.8,1099.2 320.7,1119.0 309.3,1138.8 303.1,1158.7 300.0,1178.4 301.8,1200.5 303.3,1206.7 310.0,1226.7 316.7,1246.7 321.7,1263.3 326.7,1280.0 330.0,1296.7 326.7,1306.7 325.0,1323.3 330.0,1340.0 336.7,1356.7 341.7,1373.3 343.3,1386.7 345.0,1401.7 350.0,1411.7 356.7,1416.7 363.3,1413.3 373.3,1410.0 386.7,1404.0 400.0,1402.7 413.3,1404.0 426.7,1408.3 438.3,1411.7 450.0,1405.0 460.0,1396.7 473.3,1386.7 486.7,1378.3 499.3,1373.3 500.0,1355.0 510.0,1345.0 520.0,1333.3 526.0,1313.3 526.7,1293.3 527.7,1266.7 527.3,1240.0 525.0,1223.3 516.7,1210.0 508.3,1200.0 506.7,1198.3 493.3,1183.3 483.3,1166.7 476.7,1150.0 470.0,1133.3 463.3,1113.3 460.0,1093.3 455.1,1077.0 454.7,1075.2 455.1,1075.0 443.4,1056.6Z"/>
<path class="dr" d="M153.3,1153.3 146.7,1163.3 133.3,1176.7 120.0,1190.0 110.0,1200.0 105.0,1203.3 102.7,1213.3 101.7,1233.3 98.3,1250.0 90.0,1256.7 86.7,1270.0 78.3,1276.7 75.0,1286.7 70.0,1296.7 86.7,1299.3 100.0,1298.3 106.7,1300.0 120.0,1306.7 133.3,1315.0 143.3,1323.3 153.3,1331.7 163.3,1340.0 170.0,1346.7 171.7,1356.7 166.7,1365.0 171.7,1370.0 171.7,1383.3 166.7,1391.7 156.7,1395.0 143.3,1395.0 130.0,1396.7 130.0,1406.7 131.7,1416.7 136.7,1426.7 138.3,1440.0 138.3,1460.0 139.5,1460.7 139.4,1460.9 139.7,1461.0 140.5,1461.4 139.8,1462.7 140.0,1462.8 150.0,1464.3 160.0,1462.7 168.3,1460.3 183.3,1465.3 200.0,1470.3 216.7,1476.0 233.3,1481.3 250.0,1487.0 266.7,1492.7 283.3,1498.7 300.0,1503.7 316.7,1508.7 333.3,1514.7 366.7,1515.3 400.0,1516.0 413.3,1517.0 426.7,1517.7 443.3,1518.3 455.0,1518.7 460.0,1528.7 466.7,1542.0 475.0,1555.3 481.7,1568.7 484.9,1581.6 485.0,1582.0 481.7,1592.0 473.3,1605.3 470.4,1615.7 476.6,1612.6 486.6,1605.9 499.9,1597.6 513.3,1587.6 526.6,1577.6 539.9,1564.3 550.0,1554.2 548.3,1550.0 546.7,1540.0 544.0,1526.7 542.7,1513.3 544.0,1500.0 546.0,1486.7 542.7,1473.3 543.3,1460.0 545.0,1448.3 536.7,1441.7 528.3,1435.0 516.7,1426.7 505.0,1416.7 503.3,1403.3 501.7,1386.7 499.3,1373.3 486.7,1378.3 473.3,1386.7 460.0,1396.7 450.0,1405.0 438.3,1411.7 426.7,1408.3 413.3,1404.0 400.0,1402.7 386.7,1404.0 373.3,1410.0 363.3,1413.3 356.7,1416.7 350.0,1411.7 345.0,1401.7 343.3,1386.7 341.7,1373.3 336.7,1356.7 330.0,1340.0 325.0,1323.3 326.7,1306.7 330.0,1296.7 326.7,1280.0 321.7,1263.3 316.7,1246.7 310.0,1226.7 303.3,1206.7 301.8,1200.5 300.1,1178.4 298.7,1178.4 298.4,1176.7 286.7,1178.3 273.3,1176.7 265.0,1175.0 266.7,1166.7 265.0,1153.3 261.7,1136.7 258.3,1120.0 253.3,1108.3 250.0,1101.7 243.3,1106.7 233.3,1110.0 220.0,1108.3 206.7,1103.3 193.3,1100.0 180.0,1101.7 170.0,1106.7 163.3,1116.7 160.1,1129.7 153.3,1139.9 152.8,1140.0 152.5,1140.0 153.2,1142.1 154.9,1147.0Z"/>
<path class="y2" d="M526.6,1577.6 513.3,1587.6 499.9,1597.6 486.6,1605.9 476.6,1612.6 470.4,1615.7 473.3,1605.3 481.7,1592.0 485.0,1582.0 481.7,1568.7 475.0,1555.3 466.7,1542.0 460.0,1528.7 455.0,1518.7 443.3,1518.3 426.7,1517.7 413.3,1517.0 400.0,1516.0 366.7,1515.3 333.3,1514.7 316.7,1508.7 300.0,1503.7 283.3,1498.7 266.7,1492.7 250.0,1487.0 233.3,1481.3 216.7,1476.0 200.0,1470.3 183.3,1465.3 168.3,1460.3 160.0,1462.7 150.0,1464.3 140.0,1462.7 137.3,1467.7 137.3,1501.0 136.7,1532.7 133.3,1537.0 120.0,1538.3 106.7,1540.3 90.0,1537.7 80.0,1537.7 72.7,1536.0 71.7,1526.0 66.7,1521.0 60.0,1521.0 58.3,1526.0 61.7,1531.0 65.0,1537.7 60.0,1551.0 55.0,1564.3 48.3,1574.3 46.0,1587.7 46.7,1601.0 50.0,1614.3 53.3,1627.7 56.7,1637.7 58.3,1647.7 60.0,1661.0 73.3,1661.0 81.7,1664.3 90.0,1667.7 96.7,1672.7 106.7,1669.3 116.7,1677.7 123.3,1687.7 133.3,1691.0 143.3,1697.7 146.7,1707.7 143.3,1714.3 150.0,1722.7 163.3,1724.3 173.3,1731.0 171.7,1741.0 176.7,1744.3 181.7,1754.3 190.0,1756.0 193.3,1761.0 186.7,1771.0 185.0,1781.0 180.0,1791.0 176.7,1801.0 333.3,1801.0 343.3,1797.7 348.3,1787.7 356.7,1787.7 366.7,1791.0 376.7,1801.0 500.0,1801.0 500.0,1794.3 498.3,1784.3 496.7,1772.7 503.3,1767.7 513.3,1761.0 523.3,1754.3 533.3,1747.7 543.3,1737.7 555.0,1741.0 560.0,1734.3 565.0,1726.0 561.7,1721.0 568.3,1714.3 570.0,1706.0 563.3,1699.3 558.3,1692.7 563.3,1687.7 568.3,1677.7 565.0,1667.7 568.3,1659.3 558.3,1659.3 548.3,1654.3 545.0,1647.7 546.7,1637.7 556.7,1636.0 560.0,1631.0 558.3,1624.3 565.0,1617.7 563.3,1607.7 565.0,1596.0 558.3,1592.7 555.0,1584.3 556.7,1574.3 563.3,1566.0 556.7,1561.0 550.7,1556.0 550.0,1554.2 539.9,1564.3Z"/>
<path class="d" fill="none" d="M88.1,977.1 90.1,977.4 92.5,973.8 97.5,970.0 100.0,962.5 96.3,955.0 97.5,950.0 103.8,951.3 110.0,957.5 117.5,958.8 122.5,955.0 127.5,947.5 132.5,937.5 135.0,928.8 140.0,923.8 145.0,927.5 150.0,935.0 155.0,940.0 160.0,932.5 165.0,925.0 170.0,915.0 173.8,905.0M102.5,843.7 98.0,842.6M98.1,842.5 102.5,843.7M102.5,843.7 110.0,847.4 120.0,851.2 130.1,852.4 132.5,857.3 137.5,853.6 147.6,858.7 155.1,864.9 160.0,871.1 167.4,862.4 174.9,852.4 181.2,844.9M173.3,237.0 173.0,235.0 171.3,220.0 167.5,210.0 160.0,203.8 146.3,198.8 141.3,186.3 135.0,177.5 127.5,166.3 122.8,161.6M137.4,332.0 137.0,315.0 138.0,300.0 150.0,295.0 155.0,283.8 162.5,275.0 163.8,260.0 167.0,247.5 173.3,237.0M137.9,347.0 137.4,332.0M137.4,332.0 137.9,347.0M140.4,1462.8 150.0,1464.3 160.0,1462.7 168.3,1460.3 183.3,1465.3 200.0,1470.3 216.7,1476.0 233.3,1481.3 250.0,1487.0 266.7,1492.7 283.3,1498.7 300.0,1503.7 316.7,1508.7 333.3,1514.7 366.7,1515.3 400.0,1516.0 413.3,1517.0 426.7,1517.7 443.3,1518.3 455.0,1518.7 460.0,1528.7 466.7,1542.0 475.0,1555.3 481.7,1568.7M152.9,1140.0 153.3,1139.9 160.1,1129.7 163.3,1116.7 170.0,1106.7 180.0,1101.7 193.3,1100.0 206.7,1103.3 220.0,1108.3 233.3,1110.0 243.3,1106.7 250.0,1101.7M155.4,362.4 165.0,358.8 172.5,355.0 182.5,353.8 192.5,355.0M173.3,237.0 175.0,237.5 202.5,236.3 207.5,232.5 208.8,222.5 212.5,217.5 220.0,208.0 240.0,207.5 250.0,210.0 260.0,213.8 268.8,216.3 272.5,222.5 287.5,217.5 295.0,210.0 307.4,203.8 308.2,198.8M173.8,905.0 173.3,910.0 180.0,921.7 203.3,925.0 205.0,936.7 196.7,950.0 200.0,963.3 190.0,976.7 188.3,986.7 203.3,993.3 200.0,1003.3 208.3,1013.3 206.7,1026.7 216.7,1040.0 226.7,1051.7 240.0,1060.0 255.0,1065.0M173.8,905.0 172.5,900.0 173.8,890.0 180.0,885.0 186.3,877.5 190.0,867.5 193.8,857.5 196.3,847.5M180.4,431.2 190.0,430.0 191.3,438.8 198.8,446.3 212.5,450.0 230.0,451.3 242.5,453.8 252.5,457.5 259.6,463.4 265.1,467.4M181.3,844.9 185.0,841.3M187.5,846.3 181.3,845.0M185.0,841.3 181.3,845.0M182.8,580.6 186.3,586.3M186.3,586.3 182.8,580.5M185.0,841.3 195.0,837.5 202.5,832.5 209.8,828.9 213.7,824.4 219.9,816.2M186.3,586.3 192.5,588.8 200.0,587.5 207.5,591.3 202.5,589.2 206.7,592.5 211.7,595.8 215.9,596.5M196.3,847.5 188.0,846.3 187.5,846.3M187.5,846.3 196.3,847.5M190.0,681.9 190.0,677.5 187.5,671.3 180.0,670.0 170.0,667.5 160.0,665.0 150.0,662.5 138.8,658.8 131.3,652.5 126.3,645.0 122.5,640.0 117.5,640.0 112.5,641.3 107.5,650.0 98.8,652.5 97.5,657.5 90.0,662.5 80.0,666.3 67.5,666.3 58.8,671.3 61.3,677.5 63.8,682.5 60.0,692.5 55.0,702.5 51.3,710.0 53.8,722.5 56.3,733.8 62.5,732.5 72.5,730.0 75.0,723.8 85.0,723.8 92.5,721.3 102.5,722.5 112.5,720.0 122.5,718.8 127.5,713.8 137.5,716.3 140.0,710.0 150.0,707.5 157.5,706.3 162.5,702.5 170.0,697.5 177.5,692.5 182.5,687.5 189.5,684.0M190.2,668.7 196.3,666.3 202.5,662.5 205.0,655.0 210.0,650.0 217.5,645.0 225.0,640.0 231.3,636.3 232.5,632.5 230.0,625.0 225.0,620.0 226.2,613.8 226.0,613.5 222.4,609.2 220.7,605.0 218.2,600.9 217.7,599.6M192.5,355.0 193.8,365.0 191.3,375.0 188.8,380.0 195.0,383.8 205.0,385.0 217.5,385.0 226.3,387.5 232.5,392.5 237.5,400.0 242.5,407.5 247.5,415.0 252.5,422.5 257.5,430.0 265.0,437.5 272.5,445.0 280.0,451.3M192.5,355.0 193.8,350.0 197.5,340.0 207.5,337.5 212.5,342.5 215.0,337.5 222.5,333.8 235.0,326.3 250.0,321.8 275.0,313.0 280.5,310.0 282.5,298.8 288.8,292.0 292.5,292.5 298.8,298.0M192.6,673.6 202.5,674.4 215.0,674.9 235.1,672.4 240.0,682.4 245.4,679.7 252.5,674.5 258.8,668.0 263.8,663.8 269.5,670.5M203.4,753.2 206.2,757.4M206.2,757.3 203.4,753.1M204.4,503.5 203.1,511.3 207.5,521.3 215.0,530.0 222.5,537.5 230.0,545.0 237.5,552.5M206.2,757.3 206.0,756.0 212.0,752.7 217.3,751.3 221.3,756.0 226.7,753.3 232.3,755.5 239.5,757.3 242.7,754.7 248.0,750.7 253.3,746.7 258.7,744.0M206.3,757.5 207.5,762.5M207.5,762.5 208.2,765.2 210.0,772.5M210.0,772.5 207.5,762.5M210.0,772.5 215.0,785.0 220.0,797.5M212.7,484.9 225.0,478.8M215.9,596.5 215.0,595.0M215.0,595.0 215.9,596.5M215.0,595.0 225.0,591.3M215.5,822.3 214.8,823.3 226.7,825.2 240.0,828.6 253.4,832.6M220.0,816.3 215.5,822.3M215.5,822.3 220.1,816.3M215.9,596.5 217.7,599.6M217.7,599.6 216.3,597.2 215.9,596.5M223.8,808.8 220.0,797.5M220.0,797.5 223.7,808.7M223.8,808.8 220.0,816.3M225.0,478.8 225.3,478.7 237.5,477.5M237.5,477.5 225.0,478.8M225.0,591.3 225.4,591.0 232.5,587.5M232.5,587.5 225.0,591.3M232.5,587.5 240.0,582.5 246.3,575.0M237.5,477.5 250.0,475.0 261.3,472.5 263.8,471.3M237.5,552.5 243.4,559.5M243.8,560.0 237.5,552.5M243.4,559.5 243.8,560.0M243.4,559.5 248.8,552.5 255.0,545.0 262.5,537.5 272.5,532.5 283.8,528.8M243.8,560.0 247.5,566.3 247.2,568.7M247.3,568.8 246.3,575.0M246.3,575.0 247.3,568.8M247.5,567.5 247.3,568.8M247.3,568.8 247.5,567.5M247.5,567.5 255.0,572.5 265.0,580.0 277.5,586.3 290.0,592.5 302.5,597.5 315.0,602.5 321.3,603.8M250.0,1101.7 253.3,1108.3 258.3,1120.0 261.7,1136.7 265.0,1153.3 266.7,1166.7 265.0,1175.0 273.3,1176.7 286.7,1178.3 298.3,1176.7 298.7,1178.4 300.0,1178.4M250.0,1101.7 255.0,1090.0 256.7,1076.7 255.0,1065.0M262.6,834.4 253.4,832.6M253.4,832.6 262.6,834.4M255.0,1065.0 256.7,1056.7 263.3,1043.3 271.7,1030.0 276.6,1016.8 276.2,1016.8 277.5,1016.2M262.5,743.5 258.7,744.0M258.7,744.0 262.5,743.5M272.5,681.3 275.0,692.5 277.5,700.0 275.0,710.0 270.0,717.5 265.1,724.8 263.4,733.4 262.5,737.1 262.5,743.5M264.0,743.3 262.5,743.5M262.5,743.5 264.0,743.3M262.6,834.4 265.0,825.0M262.7,834.4 262.6,835.0 265.2,847.8 270.0,857.5 275.0,867.5 277.5,872.5M265.0,825.0 262.7,834.4M263.8,471.3 267.5,478.8 273.8,487.5 277.5,497.5 280.0,507.5 282.5,520.0 283.8,528.8M263.8,471.3 265.0,467.5M264.0,743.3 270.7,744.7 277.3,743.3 282.7,742.7 286.7,745.3 290.7,748.7 294.7,752.7 298.7,756.7 305.3,758.7 313.3,760.0 320.0,761.3 326.7,764.0 329.2,764.9 331.3,764.9M265.0,825.0 270.0,815.0 277.5,805.0 287.5,795.0 297.5,786.3 307.5,778.8 317.5,772.5M265.1,467.4 272.5,460.0 280.0,451.3M269.5,670.5 270.1,672.5M272.5,681.3 269.5,670.5M270.1,672.5 272.5,681.3M327.7,634.2 327.4,633.8 315.0,640.0 305.0,650.0 295.0,658.8 285.0,665.0 275.0,670.0 270.1,672.5M277.5,872.5 285.0,873.8 295.0,880.0 305.0,887.5 307.5,892.5M277.5,872.5 272.5,880.0 267.5,892.5 263.8,905.0 261.3,912.5 262.5,925.0 263.8,937.5 265.0,950.0 266.3,962.5 268.8,975.0 271.3,987.5 273.8,1000.0 276.3,1010.0 277.5,1016.2M277.5,1016.2 280.0,1016.2 290.0,1014.9 306.7,1011.7 315.0,1010.0 323.3,1008.3 325.0,1000.0 328.3,986.7 333.3,973.3M280.0,451.3 292.5,451.3 305.0,451.3 316.3,451.3M283.8,528.8 292.5,530.0 302.5,531.3 310.0,535.0 317.5,538.8 327.5,541.3M296.3,321.3 310.0,321.3 322.5,322.5M316.3,451.3 315.0,440.0 313.8,425.0 310.0,415.0 305.0,405.0 303.8,392.5 307.5,382.5 310.0,372.5 307.5,362.5 303.8,353.8 305.0,345.0 300.0,337.5 296.3,327.5 295.0,321.3 296.3,321.3M298.8,298.0 297.5,301.3 293.8,310.0 292.5,316.3 296.3,321.3M298.8,298.0 310.0,295.5 316.3,292.5 315.5,280.0 308.8,272.5 301.3,266.3 303.8,260.0 310.0,253.8 320.0,255.0 322.5,247.5 323.3,232.5 322.5,213.8 327.7,210.2M300.0,1178.4 301.8,1200.5 303.3,1206.7 310.0,1226.7 316.7,1246.7 321.7,1263.3 326.7,1280.0 330.0,1296.7 326.7,1306.7 325.0,1323.3 330.0,1340.0 336.7,1356.7 341.7,1373.3 343.3,1386.7 345.0,1401.7 350.0,1411.7 356.7,1416.7 363.3,1413.3 373.3,1410.0 386.7,1404.0 400.0,1402.7 413.3,1404.0 426.7,1408.3 438.3,1411.7 450.0,1405.0 460.0,1396.7 473.3,1386.7 486.7,1378.3 498.8,1373.5M300.0,1178.4 303.1,1158.7 309.3,1138.8 320.7,1119.0 334.8,1099.2 346.2,1082.2 354.7,1063.8 358.3,1073.3 361.7,1086.7 366.7,1095.0 371.7,1093.3 376.7,1085.0 386.7,1080.0 400.0,1073.3 406.7,1066.7 413.1,1057.1M340.0,955.1 339.7,954.6 337.5,950.0 332.5,940.0 326.3,927.5 320.0,915.0 312.5,902.5 307.5,892.5M307.5,892.5 330.0,876.3 342.5,870.0 355.0,863.8 367.5,857.5 380.0,855.0 383.8,856.3M316.3,451.3 329.5,451.3 330.0,451.3 347.5,453.0M327.5,767.5 317.5,772.5M317.5,772.5 327.1,767.7 327.5,767.5M321.3,603.8 322.5,610.0 323.7,619.5 325.1,625.0M321.3,603.8 327.5,600.0 335.0,592.5 341.3,582.5M330.0,327.5 322.5,322.5M322.5,322.5 326.7,325.3 330.0,327.5M325.1,625.0 327.6,633.6 327.9,633.5 327.6,633.8M327.6,633.8 325.1,625.0M337.4,542.5 327.5,541.3M327.5,541.3 337.4,542.5M327.5,767.5 331.3,765.0M327.6,633.9 335.0,640.0 342.5,650.0 348.8,660.0 354.5,671.3M330.0,327.5 331.3,330.0 334.8,337.1M334.8,337.1 330.0,327.5M354.5,671.3 352.5,680.0 350.0,690.0 346.3,702.5 342.5,715.0 338.8,727.5 335.0,740.0 332.5,752.5 331.3,764.9M331.3,765.1 337.5,770.0M337.5,770.0 331.4,765.1M340.0,955.1 333.3,973.3M333.3,973.3 340.0,955.1M334.8,337.1 337.6,342.5 341.3,355.0 345.1,366.2 360.0,367.4 368.8,369.9 372.0,374.2 376.3,370.0 380.0,366.3 395.0,363.8 401.2,357.6M337.4,542.5 338.7,534.5 338.8,534.7 340.0,526.3 351.3,522.5 355.0,515.0 360.0,507.5 367.5,503.8M337.5,542.5 342.5,550.0 347.2,557.1 351.3,562.5M337.5,770.0 345.0,776.3 355.0,781.3 365.0,782.5M346.7,966.7 340.0,955.0M340.0,955.1 346.7,966.7M341.3,582.5 346.0,572.9 346.3,572.5M346.3,572.5 341.3,582.5M346.3,572.5 351.3,562.5M346.7,966.7 352.9,972.9 356.7,976.7M356.7,976.7 346.7,966.7M367.5,503.8 366.3,500.0 362.5,492.5 357.5,482.5 353.8,472.5 350.0,462.5 347.5,453.0M347.5,453.0 358.8,451.3M351.3,562.5 362.5,566.3M362.5,566.3 351.3,562.5M354.5,671.3 360.0,667.5 367.5,663.8 377.5,658.8 387.5,655.0 397.5,651.3 405.0,648.8M356.7,976.7 366.7,985.0 370.0,988.3 371.3,988.8M358.8,451.3 370.0,457.5 380.0,461.3 392.0,464.8M358.8,451.3 361.3,440.0M361.3,440.0 358.8,451.3M361.3,440.0 365.0,430.0 367.5,417.5 367.5,405.0 371.3,396.3 377.5,387.5 385.0,381.3 395.0,378.8 402.5,375.0M362.5,566.3 376.3,570.0M365.0,782.5 370.0,786.3 377.5,793.8 385.0,802.5 392.5,815.0 397.5,825.0 403.7,834.4M365.0,782.5 370.0,777.5 377.5,767.5 385.0,757.5 390.0,747.5 393.8,738.8M367.5,503.8 380.0,507.5 392.5,515.0 405.0,518.8 415.0,522.5M371.3,988.8 380.0,992.5 392.5,995.0 402.5,1000.0 407.5,1007.5 410.0,1017.5 411.3,1027.5 415.0,1037.5 419.9,1046.6M371.3,988.8 372.5,982.5 380.0,977.5 390.0,972.5 400.0,966.3 407.3,962.6 411.2,957.4M376.3,570.0 377.5,577.5 377.5,586.3M376.3,570.0 387.5,565.0 400.0,560.0 412.5,555.0 420.0,547.5 426.3,540.0 425.0,530.0M405.0,648.8 402.5,640.0 397.5,630.0 393.8,622.5 390.0,615.0 386.3,605.0 381.3,595.0 377.5,586.3M377.5,586.3 387.5,580.0 397.5,577.5 410.0,581.3 422.5,586.3 435.0,592.5 439.3,594.3M411.2,957.4 408.8,947.5 410.0,937.5 407.5,927.5 410.0,917.5 413.8,912.5 407.5,907.5 400.0,902.5 392.5,897.5 388.8,890.0 386.3,880.0 385.0,870.0 385.0,860.0 383.8,856.3M383.8,856.3 390.0,847.5 397.1,840.4 403.7,834.4M401.2,357.6 407.5,354.9 406.3,340.0 402.5,325.0 398.8,317.5 395.0,307.5 397.5,297.5 394.5,291.3 397.5,286.3 400.0,280.0 405.0,270.0 407.5,260.0 410.0,248.8 415.0,242.5 421.3,241.3 423.8,235.0 420.0,230.0 413.8,230.0 410.0,226.3 403.8,225.0 400.0,218.8 395.0,212.5 390.1,204.0M392.0,464.8 407.5,467.4M408.0,467.5 392.0,464.8M393.8,738.8 400.0,742.5 410.0,746.3 420.0,751.3 430.0,755.0M410.0,663.8 405.0,668.8 401.3,677.5 400.0,690.0 398.8,702.5 396.3,715.0 395.0,727.5 393.8,738.8M401.2,357.6 401.3,367.5M402.5,375.0 401.3,367.5M401.3,367.5 402.5,375.0M402.5,375.0 410.0,377.5 425.0,378.8M403.7,834.4 407.6,833.6M405.0,648.8 406.3,657.5 410.0,663.8M407.5,467.4 406.3,455.0 410.0,447.5 417.5,440.0 423.8,433.8 417.5,422.5 416.3,410.0 420.0,397.5 423.8,387.5 426.3,383.8 430.0,381.3M407.6,833.7 408.9,842.9M408.9,842.9 407.6,833.7M407.6,833.7 415.0,831.3 425.0,826.3 430.0,821.3 435.0,828.8 437.5,833.8 445.0,828.8 452.5,823.8 460.0,818.8 460.0,812.5 462.5,805.0 465.0,798.8M408.0,467.5 422.5,468.8 437.5,471.3M408.9,842.9 412.5,852.5 417.5,862.5 422.5,870.0 427.5,877.5 432.5,885.0 437.5,887.5 442.5,888.8 450.0,892.5 457.5,897.5 465.0,902.5 472.5,905.0 480.0,911.3 490.0,912.5 495.0,916.3 500.0,920.0 507.0,918.9M410.0,663.8 420.0,660.0 430.0,656.3 442.5,652.5 456.3,650.0M411.2,957.4 415.0,958.7 422.5,959.9 430.0,963.6 437.4,959.9 444.9,954.9 452.5,951.1 457.6,954.9 462.6,962.4 470.1,966.2 477.5,972.4 487.5,971.2 494.7,967.5M413.0,1057.0 419.9,1046.6M420.0,1046.5 413.0,1057.0M415.0,522.5 424.9,529.9M425.0,530.0 415.0,522.5M420.0,1046.5 433.4,1051.6 443.4,1056.6 454.8,1074.6M424.9,529.9 426.2,525.0 427.4,515.0 429.9,505.0 433.7,496.2 438.7,489.9 441.8,487.3 445.0,483.3 450.8,476.7M425.0,378.8 429.9,381.2M430.0,381.3 425.0,378.8M425.0,530.0 426.7,535.8 436.7,540.0 450.0,544.2 461.7,546.7 465.0,545.0M430.0,381.3 437.5,381.3M430.0,755.0 432.5,757.5 440.0,761.3 445.0,767.5 450.0,775.0 455.0,785.0 460.0,793.8M430.0,755.0 437.5,751.3 445.0,745.0 452.5,737.5 456.3,727.5 458.8,715.0 460.0,705.0M437.5,381.3 448.6,380.0M448.8,380.0 437.5,381.3M437.5,471.3 449.9,473.7M450.0,473.8 437.5,471.3M439.3,594.3 440.1,594.9M448.3,601.8 439.3,594.3M440.1,594.9 448.3,601.8M470.8,575.0 468.3,576.7 460.0,579.2 453.3,583.3 446.7,588.3 440.1,594.9M448.6,380.0 448.5,379.6 447.5,373.8M447.5,373.8 457.5,367.5M457.5,367.5 447.5,373.8M448.3,601.8 456.4,611.4M448.8,380.0 452.5,390.0 458.8,401.3M449.9,473.7 459.5,472.4 460.0,457.5 462.5,452.5 476.3,448.8 483.8,446.3 482.5,442.5 476.3,433.8 471.3,423.8 465.0,412.5 458.8,401.3M450.0,473.8 451.0,476.7M461.7,478.3 450.8,476.7M488.3,525.8 483.3,518.3 478.3,511.7 471.7,508.3 466.7,505.0 461.7,496.7 456.7,488.3 453.3,481.7 450.8,476.7M451.0,476.7 461.7,478.3M457.5,367.5 458.8,357.5 457.5,348.8 470.0,342.5 466.3,335.0 465.5,322.5 462.5,310.0 457.5,297.5 453.8,285.0 450.0,272.5 447.5,262.5 448.8,255.0 455.0,246.3 453.9,239.2M460.0,690.0 463.8,680.0 465.0,667.5 462.5,657.5 456.3,650.0M456.3,650.0 453.8,640.0 456.1,628.0 460.4,618.0 456.4,611.4M456.4,611.4 458.4,613.3 466.7,619.9 475.1,626.6M458.8,401.3 458.8,398.8 470.0,393.8M460.0,705.0 458.8,702.5M458.8,702.5 460.0,690.0M460.0,690.0 458.8,702.5M460.0,705.0 470.0,706.3 485.0,707.5 500.0,707.5 515.0,708.8 526.3,710.0M465.0,798.8 460.0,793.8M460.0,793.8 464.9,798.7M461.7,478.3 475.0,480.0 490.0,481.7 503.3,483.3 515.0,485.0 523.3,485.8M465.0,545.0 465.8,552.5 467.5,560.0 468.7,566.7 470.8,575.0M465.0,545.0 470.0,538.3 478.3,530.8 488.3,525.8M465.0,798.8 470.0,798.8 480.0,796.3 490.0,795.0 500.0,794.5 510.0,795.0M470.0,393.8 470.5,393.6 485.0,390.0M485.0,390.0 470.0,393.8M470.8,575.0 473.3,581.3 481.7,584.2 489.2,585.8M482.5,631.5 475.1,626.6M475.1,626.6 482.5,631.6M485.0,1582.0 481.7,1568.7M481.7,1568.7 484.9,1581.6 485.0,1582.0M482.5,631.5 483.0,626.7 483.3,618.3 484.2,610.0 485.8,603.3 488.3,596.7 491.7,591.7 493.3,586.7M482.6,631.6 488.4,634.9 495.0,638.2 502.6,640.8 503.4,648.3 510.0,649.9 516.7,649.1 523.3,648.2M485.0,390.0 500.0,383.8 515.0,377.5M485.0,1582.0 481.7,1592.0 473.3,1605.3 470.4,1615.7 476.6,1612.6 486.6,1605.9 499.9,1597.6 513.3,1587.6 526.6,1577.6 539.9,1564.3 549.7,1554.5M488.3,525.8 500.0,532.5M489.2,585.8 493.3,586.7M500.0,532.5 499.7,543.3 495.8,553.3 492.0,563.3 491.3,573.3 493.3,580.8 489.2,585.8M493.3,586.7 501.7,587.5 510.0,587.5 518.3,586.7M500.0,532.5 506.7,533.3 513.3,535.0M512.4,324.9 505.0,317.5 500.0,310.0 496.3,300.0 493.8,288.8 491.3,281.3 493.8,275.0 500.0,267.5 505.0,258.8 503.8,247.5 500.1,236.6M508.8,887.5 511.3,892.5M511.3,892.5 508.8,887.5M508.8,887.5 502.5,882.5 502.5,872.5 502.5,863.8 508.8,862.5 510.0,857.5 512.5,850.0 517.5,848.8 523.8,847.5 522.5,842.5 518.8,832.5 515.0,822.5 511.3,815.0 510.0,805.0 510.0,795.0M509.8,909.6 507.0,905.0 508.0,900.0 511.3,892.5M510.0,795.0 511.3,790.0 512.5,777.5 513.8,765.0 515.0,752.5 516.3,740.0 518.8,730.0 522.5,720.0 526.3,710.0M535.0,372.5 538.7,355.1 531.4,351.8 525.0,351.3 517.4,347.6 512.7,344.4 510.0,343.8 508.8,337.6 508.3,337.8 508.2,337.6 510.9,336.7 511.2,335.0M511.2,335.0 512.4,324.9M512.5,324.5 511.2,335.0M512.5,324.5 512.6,325.0 517.5,322.5 525.0,325.0 537.5,325.0 550.0,325.0 555.0,321.3 562.5,325.0 572.5,325.0 580.0,322.5 585.0,325.0 595.0,330.0 601.3,333.0M513.3,535.0 519.7,536.6M520.0,536.7 513.3,535.0M515.0,377.5 531.1,372.5M531.3,372.5 515.0,377.5M523.4,648.2 524.2,643.3 525.0,635.0 525.8,625.0 527.5,616.7 528.3,610.0 526.7,603.3 523.3,600.0 524.2,595.0 520.0,591.7 518.3,586.7M518.3,586.7 520.0,583.3 524.2,579.2M519.7,536.6 522.5,533.3 525.0,526.7M520.0,536.7 519.9,539.5 520.1,543.3 521.0,552.2 521.7,560.0 522.5,568.3 523.3,575.0 524.2,579.2M525.0,526.7 524.2,523.3 522.0,513.3 521.7,503.3 522.0,493.3 523.3,485.8M523.3,485.8 533.3,484.7 540.0,481.7 546.7,485.0 553.3,488.3 561.7,492.5 570.0,495.8 572.5,498.3M523.4,648.2 530.0,648.2 536.7,647.4 542.5,647.4M524.2,579.2 526.7,578.7 533.3,579.2 541.7,579.7 551.7,580.3 560.0,580.0M525.0,526.7 533.3,526.7 540.0,527.5 548.3,528.3 553.3,525.8M526.3,710.0 529.8,704.0 530.0,703.8M530.0,703.8 526.3,710.0M530.0,703.8 537.5,697.5M531.3,372.5 535.0,372.5M535.0,372.5 545.0,375.0 553.8,378.8M535.0,472.5 540.0,481.3M540.0,481.3 535.0,472.5M535.0,472.5 533.8,463.8 540.0,455.0 547.5,447.5 550.0,437.5 552.5,427.5 557.5,417.5 561.3,408.8M537.5,697.5 535.0,695.0M535.0,695.0 537.5,685.0M537.5,685.0 535.0,695.0M537.5,685.0 540.0,675.0 545.0,665.0M560.0,737.5 552.5,732.5 548.8,722.5 545.0,712.5 540.0,702.5 537.5,697.5M597.2,506.1 590.0,502.5 580.0,497.5 570.0,495.0 560.0,490.0 550.0,485.0 540.0,481.3M542.5,647.4 544.2,643.3M550.0,657.5 542.5,647.5M544.2,643.3 542.5,647.5M544.2,643.3 549.2,635.0 554.2,627.5 558.3,620.8 565.0,619.2 571.7,617.5 578.3,618.3M545.0,665.0 549.9,657.6M550.0,657.5 545.0,665.0M550.0,386.3 558.8,393.8 563.8,401.3 561.3,408.8M553.8,378.8 550.0,386.2M550.0,386.3 553.8,378.8M551.3,868.7 552.5,855.0M552.5,855.0 551.4,868.7M553.8,840.0 552.5,855.0M552.5,855.0 553.2,847.0 553.8,840.0M572.5,556.7 570.8,553.3 568.3,546.7 565.8,540.0 562.5,533.3 558.3,528.3 553.3,525.8M553.3,525.8 556.7,522.5 561.7,516.7 566.7,510.0 571.7,503.3 572.5,498.3M553.8,840.0 555.0,825.0 561.3,815.0 562.4,810.5 563.3,802.8 561.3,792.5 557.5,780.0 559.9,770.5 562.4,757.5 566.2,747.5 567.4,740.0M578.3,618.3 576.7,613.3 573.3,606.7 570.0,600.0 566.7,593.3 563.3,586.7 560.0,580.0M560.0,580.0 556.7,575.0 553.3,568.3 551.7,563.3 556.7,561.7 565.0,559.2 572.5,556.7M560.0,737.5 567.5,740.0M567.4,740.0 560.0,737.5M561.3,408.8 572.5,410.0M636.3,743.6 630.0,740.1 617.5,735.1 614.5,733.3 612.5,732.5 600.0,726.3 590.0,720.0 580.0,726.3 567.5,740.0M572.5,410.0 585.0,407.5M585.0,407.5 572.5,410.0M572.5,498.3 578.3,497.5 586.7,501.7 593.3,505.0M572.5,556.7 580.0,555.0 590.0,553.3 600.0,551.7 605.0,550.8 612.5,560.0 620.0,570.0 628.7,578.7M578.3,618.3 580.0,623.8 583.8,630.0 588.8,640.0 593.8,650.0 597.5,658.0M585.0,407.5 596.3,407.5M593.3,505.0 597.2,506.1M599.2,506.7 593.3,505.0M596.3,407.5 595.0,415.0 597.5,422.5 605.0,426.3 610.0,428.8M596.3,407.5 602.5,400.0 607.5,391.3 612.5,382.5 617.5,376.3 625.0,370.0 630.0,365.0M597.2,506.1 599.2,506.7M597.5,658.0 608.8,658.0 610.0,654.3 617.5,655.5 621.3,653.0 626.3,645.5 630.0,638.0 635.0,633.0M597.5,658.0 600.0,660.0 605.0,670.0 612.5,680.0 620.0,690.0 627.5,700.0 634.9,707.4 639.8,708.6M599.2,506.7 600.0,507.5M600.0,507.5 612.5,509.5M610.0,428.8 602.5,437.5 600.0,445.0 601.3,455.0 602.5,467.5 602.5,480.0 600.0,490.0 601.3,497.5 600.0,507.5M630.0,365.0 628.8,360.0 622.5,352.5 615.0,346.3 607.5,340.0 601.3,333.0M601.3,333.0 607.5,330.0 615.0,325.0 622.5,317.5 627.5,310.0 625.0,305.0 630.0,302.5 635.0,298.8 642.5,295.0 650.0,287.5 655.0,275.0 660.0,265.0 670.0,257.5 670.8,250.4M610.0,428.8 620.0,422.5 630.0,416.3 640.0,415.0 647.5,417.5 657.5,427.5 665.0,435.0 671.3,440.0 677.5,437.5 684.6,432.8M612.5,509.5 619.7,510.3 627.5,511.3M627.5,511.3 612.5,509.5M627.5,511.3 628.8,520.0 631.3,530.0 633.8,540.0 636.3,550.0 638.8,560.0 640.0,568.6M627.5,511.3 642.5,507.5 660.0,503.8 677.5,500.0 692.5,497.0M635.0,633.0 633.8,627.5 627.5,623.8 620.0,617.5 615.0,611.3 617.5,605.0 621.3,597.5 626.0,588.0 628.7,578.7M628.7,578.7 634.9,574.4 640.0,568.6M630.0,365.0 640.0,357.5 650.0,352.5 662.5,350.0 670.0,360.0 675.0,370.0 680.0,380.0 685.0,385.8M635.0,633.0 640.0,640.0 647.5,645.0 657.5,650.0 667.5,655.0 677.5,658.8M640.0,568.6 646.0,573.5M647.5,574.5 646.1,573.5M646.1,573.5 647.5,574.5M647.5,574.5 665.0,577.0 667.5,580.0M667.5,580.0 668.8,581.3 677.5,579.5 687.5,580.5 697.5,583.0 706.3,585.5M706.3,620.0 702.5,615.0 692.5,607.5 682.5,601.3 672.5,595.0 666.3,590.0 667.5,580.0M687.5,657.5 677.5,658.8M677.5,658.8 687.0,657.6 687.5,657.5M687.5,657.5 697.5,656.3M698.2,497.5 692.5,497.0M692.5,497.0 698.2,497.5M697.5,656.3 680.0,663.8 680.0,670.0 683.8,677.5 690.0,685.0 697.5,692.5 705.0,697.5 712.5,703.8 716.3,710.0 716.3,717.0M697.5,656.3 698.8,645.0 702.5,641.3M698.2,497.5 698.7,496.1 701.3,490.0 702.5,480.0 702.5,472.1M698.8,497.5 702.5,503.8 707.5,511.3 712.5,518.8 718.8,526.3 722.5,528.8M702.5,641.3 715.0,645.0 727.5,648.8 740.0,652.5 750.0,657.5 760.0,663.8M702.5,641.3 703.8,630.0M703.8,630.0 703.9,629.5 706.3,620.0M706.3,620.0 703.8,630.0M706.3,585.5 705.0,580.0 703.8,570.0 701.3,557.5 698.8,545.0 697.5,533.8 710.0,531.3 722.5,528.8M706.3,585.5 715.0,583.8 727.5,582.5 730.0,587.5 732.5,595.0 735.0,602.5 742.5,601.3 752.5,603.8 760.0,606.3 766.3,610.0 765.0,616.3 761.3,622.5 766.3,625.0M716.3,717.0 717.5,725.9M717.5,725.9 716.3,717.0M722.5,528.8 723.8,530.0M730.0,536.3 722.5,528.8M723.8,530.0 727.3,533.5 730.0,536.3M723.8,530.0 722.5,527.5 735.0,524.5 750.0,522.0 765.0,519.5 780.0,517.0 792.5,513.3 805.0,509.5 820.0,508.0 830.0,510.0 840.0,516.3 845.0,520.0M723.9,457.4 727.5,460.0M727.5,460.0 724.0,457.3M729.4,466.7 727.5,460.0M727.5,460.0 729.0,465.3 729.4,466.7M729.4,466.7 729.9,468.2 730.5,468.6 738.4,468.0 738.7,467.9 739.3,468.0 745.0,467.5 762.5,467.0 780.0,466.3 792.5,467.5M730.0,536.3 740.0,541.3 750.0,545.0 760.0,550.0 770.0,556.3 780.0,565.0 790.0,573.8 800.0,582.5 803.8,586.3M752.5,700.0 755.0,701.3M755.0,701.3 753.2,700.4 752.5,700.0M752.5,700.0 755.0,692.5 758.8,682.5M772.5,710.0 765.0,706.3 755.0,701.3M758.8,682.5 760.0,677.5 761.3,672.5M761.3,672.5 758.8,682.5M762.4,667.4 760.0,663.8M760.0,663.8 762.4,667.4M761.3,672.5 762.5,667.5M762.4,667.4 772.5,664.9 775.0,657.5 777.5,650.0 770.0,640.0 766.3,632.5 766.3,625.0M762.5,667.5 772.5,666.3 777.5,667.5 785.0,667.5 795.0,668.8 805.0,671.3 817.5,675.0 827.5,680.0 830.0,690.0M766.3,625.0 770.0,625.0 777.5,618.8 783.8,612.5 787.5,605.0 791.3,597.5 797.5,590.0 803.8,586.3M772.5,710.0 777.5,717.5M777.5,717.5 774.6,713.2 772.5,710.0M783.8,741.8 784.3,739.8 783.8,737.5 785.7,735.2 787.4,730.0 782.4,723.8 779.9,720.1 778.9,717.9 777.5,717.6M792.5,467.5 796.3,470.0 802.5,473.8 810.0,480.0 817.5,483.8 827.5,486.3 840.0,487.5 852.5,488.8 862.5,492.5 870.0,500.0 875.0,506.3M792.5,467.5 805.0,461.3 820.0,455.0 835.0,451.3 850.0,448.8 861.3,447.0M841.3,647.5 837.5,637.5 832.5,626.3 825.0,615.0 817.5,605.0 810.0,595.0 803.8,586.3M803.8,586.3 806.3,583.8 817.5,573.8 829.5,568.9 841.3,567.4M830.0,690.0 835.0,695.0 842.5,698.8 847.5,703.8 852.5,700.0 857.5,697.5 856.3,707.5 855.0,717.5 852.5,727.5 848.8,735.0 850.0,738.8 862.5,736.3 875.0,732.5 882.5,733.8 883.8,738.8 885.0,747.5 887.5,757.5 890.0,767.5 891.2,775.9M830.0,690.0 831.3,680.0 832.5,670.0 836.3,660.0 838.8,652.5M841.3,647.5 838.8,652.5M838.8,652.5 839.0,652.1 841.3,647.5M841.3,567.4 850.0,568.7 860.0,571.2 870.0,576.2 880.0,579.9 887.6,581.8M841.3,567.4 842.5,561.3 847.5,555.0 855.0,552.5 862.5,551.3 858.8,537.5 856.3,530.0M841.3,647.5 850.0,650.0 862.5,653.8 872.5,658.8M847.7,521.8 845.0,520.0M845.0,520.0 845.4,520.3 847.7,521.8M850.0,377.5 846.5,370.4M847.7,521.8 850.0,523.3 852.5,525.0M852.5,525.0 847.7,521.8M852.2,382.5 851.6,381.1 850.0,377.5M850.0,377.5 852.2,382.5M852.2,382.5 853.8,386.3M853.8,386.3 852.8,384.1 852.2,382.5M852.5,525.0 856.3,530.0M861.3,447.0 861.3,437.5 860.1,428.3 858.6,426.1 855.0,422.5 853.2,420.7 851.3,415.5 851.0,414.5 849.9,410.0 847.9,406.1 844.6,403.5 837.7,400.1 837.5,400.0 833.8,395.0 836.3,390.0 845.0,388.8 853.8,386.3M856.3,530.0 858.8,530.0 863.8,527.5 870.0,521.3 876.3,515.0 875.0,506.3M861.3,447.0 875.0,447.0 890.0,447.5 902.5,446.3M872.5,658.8 877.5,667.5 885.0,673.8 895.0,678.8 905.0,683.8 915.0,687.5 925.0,690.0 935.0,693.8 941.3,696.3 947.5,695.0 950.0,700.0 950.9,701.9 952.6,702.4M872.5,658.8 875.0,652.5 880.0,645.0 885.0,635.0 890.0,627.5 893.8,618.8 895.0,623.8 902.5,622.5 908.8,620.0 910.0,610.0 912.5,600.0 920.0,597.5 927.5,592.5 935.0,585.0 939.8,575.4M875.0,506.3 880.0,505.0 890.0,502.5 900.0,500.0M893.0,581.4 887.6,581.8M887.6,581.8 890.6,581.6 893.0,581.4M893.0,581.4 896.0,580.4 898.5,578.5 900.6,575.7 902.4,571.2M900.0,500.0 909.9,497.5M910.0,497.5 900.0,500.0M962.5,743.8 958.8,746.3 952.5,752.5 945.0,756.3 935.0,757.5 925.0,755.0 915.0,752.5 907.6,751.3 903.8,762.5 902.6,770.0 901.5,774.0M908.8,483.0 907.5,475.0 906.3,465.0 905.0,455.0 902.5,446.3M902.5,446.3 912.5,441.3 920.0,435.0 926.3,428.8 927.5,422.5 923.8,415.0 926.3,405.0 927.5,395.0 923.8,390.0 921.4,379.2M902.5,571.3 903.8,567.5 906.3,560.0 910.0,547.5 912.5,535.0 912.5,522.5 911.3,510.0 910.0,497.5M902.5,571.3 912.5,570.0 925.0,568.8 937.5,567.5 941.1,569.9M990.0,466.3 980.0,467.5 967.5,468.8 955.0,470.0 942.5,472.5 930.0,473.8 925.0,477.5 922.5,482.5 915.0,483.0 908.8,483.0M910.0,497.5 908.8,483.0M941.1,569.9 939.8,575.4M939.8,575.4 941.2,569.9M941.2,569.6 942.6,573.8 955.0,580.0 970.0,585.0 985.0,586.3M952.6,702.4 952.2,704.4 952.5,705.0 953.8,712.5 956.3,721.3 958.8,730.0M995.0,687.5 987.5,692.5 975.0,693.8 962.5,696.3 952.6,702.4M961.3,738.8 958.8,730.0M958.8,730.0 961.2,738.6 961.3,738.8M990.0,466.3 988.8,457.5 985.0,447.5 981.3,435.0 977.5,426.3 968.8,427.5 966.3,423.8 956.3,425.0 958.8,421.3 961.1,413.0M962.3,407.5 961.0,413.0M961.0,413.0 962.3,407.5M961.3,738.8 962.5,743.8M962.5,743.8 965.0,743.8 972.5,748.8 980.0,756.3 987.5,758.8 997.5,761.3 1005.0,766.3 1012.5,772.5 1020.0,778.8 1025.0,786.3 1027.5,793.8 1028.8,803.8 1026.4,810.8M985.0,586.3 985.0,592.5 984.5,605.0 983.8,617.5 983.8,630.0 986.3,640.0 991.3,650.0 995.0,660.0 994.5,672.5 993.8,682.5M985.0,586.3 985.0,580.0 986.3,570.0 987.5,560.0 995.0,555.0 1000.0,550.0 1002.5,540.0 1007.5,532.5 1017.5,527.5 1025.0,526.3M1020.0,502.5 1010.0,501.3 1000.0,500.0 992.5,498.8 986.3,502.5 987.5,495.0 992.5,490.0 991.3,480.0 990.0,466.3M993.8,682.5 995.0,687.4M995.0,687.5 993.8,682.5M995.0,687.4 1007.5,693.7 1015.0,693.7 1025.0,694.9 1035.0,692.4 1045.0,688.7 1052.5,687.4 1057.6,689.9M1028.8,410.0 1027.8,410.1 1027.5,410.0 1020.0,407.6 1014.1,405.4 1014.7,403.2 1010.0,402.5 1010.0,395.2 1004.9,387.6 1001.5,384.2M1025.2,526.3 1026.1,526.2 1024.8,519.5 1024.9,519.7 1022.5,510.0 1020.0,502.5M1020.0,502.5 1022.4,493.0 1022.2,492.9 1024.9,485.0 1023.5,479.5M1023.8,479.8 1026.3,486.1M1026.3,486.1 1023.8,479.8M1023.8,479.8 1025.0,467.5 1022.5,457.5 1025.0,445.0 1028.8,432.5M1030.0,527.5 1025.0,526.3M1025.2,526.3 1030.0,527.5M1026.3,486.1 1032.5,483.6 1047.5,488.6 1052.5,487.4 1057.6,494.9 1067.5,497.4 1077.5,502.4 1087.5,508.6 1107.4,501.2 1107.4,497.5 1107.6,496.1 1108.6,490.0M1028.8,410.0 1030.0,420.0M1030.0,420.0 1028.8,410.1M1028.8,410.0 1039.5,408.8 1041.8,408.5 1041.8,406.5 1039.5,406.3 1070.0,408.7 1084.6,409.9 1085.1,412.1 1086.3,417.5M1030.0,420.0 1028.8,432.5M1028.8,432.5 1030.0,420.3 1030.0,420.0M1030.0,527.5 1031.3,529.0M1031.3,529.0 1030.0,527.5M1036.3,535.0 1031.3,529.0M1031.3,529.0 1035.9,534.6 1036.3,535.0M1036.3,535.0 1042.5,542.5M1042.5,542.5 1050.0,545.0 1062.5,547.5 1075.0,551.3 1087.5,556.3 1100.0,561.3 1107.5,567.5M1042.5,542.5 1040.0,550.0 1037.5,560.0 1036.3,570.0 1037.0,580.0 1036.3,590.0 1038.8,601.3 1045.0,606.3 1051.3,610.0M1051.3,610.0 1050.0,617.5 1046.3,625.0 1043.8,631.3 1046.3,637.5 1052.5,642.5 1060.0,650.0 1063.8,660.0 1065.0,672.5 1062.5,682.5 1057.6,689.9M1051.3,610.0 1052.5,608.8 1062.5,606.3 1072.5,603.8 1080.0,605.0 1090.0,610.0 1097.5,616.3 1105.0,622.5 1112.5,627.5 1120.0,630.0 1130.0,626.3 1137.5,622.5 1142.0,621.4M1057.6,689.9 1060.1,695.0 1062.6,702.5 1067.6,712.4 1075.1,719.9 1085.1,723.7 1100.1,736.2 1106.1,743.4M1086.3,417.5 1086.3,425.0 1090.0,435.0 1093.8,447.5 1097.5,460.0 1102.5,472.5 1106.3,482.5 1108.8,490.0M1086.3,417.5 1090.0,415.0 1100.0,413.8 1112.5,410.0 1120.0,402.5 1130.0,395.0 1140.0,388.8 1149.5,382.8M1108.8,490.0 1110.0,490.0 1120.0,489.9 1123.9,489.3M233.5,635.8 242,638.3"/>
</g>
<g id="labels">
<text class="l" x="59.4" y="238.0" textLength="84.9" lengthAdjust="spacingAndGlyphs">ANHANGUERA</text>
<text class="l" x="197.8" y="177.0" textLength="40.5" lengthAdjust="spacingAndGlyphs">PERUS</text>
<text class="l w" x="200.9" y="285.5" textLength="58.2" lengthAdjust="spacingAndGlyphs">JARAGUÁ</text>
<text class="l" x="233.2" y="379.5" textLength="55.5" lengthAdjust="spacingAndGlyphs">PIRITUBA</text>
<text class="l w"><tspan x="338.0" y="282.5" textLength="40.5" lengthAdjust="spacingAndGlyphs">BRASI-</tspan><tspan x="336.1" y="299.6" textLength="44.4" lengthAdjust="spacingAndGlyphs">LÂNDIA</tspan></text>
<text class="l"><tspan x="409.5" y="319.5" textLength="47.0" lengthAdjust="spacingAndGlyphs">CACHO-</tspan><tspan x="408.8" y="336.6" textLength="48.4" lengthAdjust="spacingAndGlyphs">EIRINHA</tspan></text>
<text class="l" x="457.7" y="364.5" textLength="64.7" lengthAdjust="spacingAndGlyphs">MANDAQUI</text>
<text class="l"><tspan x="304.1" y="393.8" textLength="68.6" lengthAdjust="spacingAndGlyphs">FREGUESIA</tspan><tspan x="323.4" y="410.9" textLength="30.1" lengthAdjust="spacingAndGlyphs">DO Ó</tspan></text>
<text class="l" x="374.4" y="433.0" textLength="37.9" lengthAdjust="spacingAndGlyphs">LIMÃO</text>
<text class="l"><tspan x="428.6" y="428.8" textLength="33.3" lengthAdjust="spacingAndGlyphs">CASA</tspan><tspan x="425.0" y="445.9" textLength="40.5" lengthAdjust="spacingAndGlyphs">VERDE</tspan></text>
<text class="l" x="484.7" y="425.8" textLength="56.6" lengthAdjust="spacingAndGlyphs">SANTANA</text>
<text class="l w" x="555.2" y="237.3" textLength="67.3" lengthAdjust="spacingAndGlyphs">TREMEMBÉ</text>
<text class="l" x="638.8" y="338.8" textLength="49.0" lengthAdjust="spacingAndGlyphs">JAÇANÃ</text>
<text class="l" x="550.4" y="369.2" textLength="60.8" lengthAdjust="spacingAndGlyphs">TUCURUVI</text>
<text class="l"><tspan x="638.4" y="388.8" textLength="26.8" lengthAdjust="spacingAndGlyphs">VILA</tspan><tspan x="620.4" y="405.9" textLength="62.7" lengthAdjust="spacingAndGlyphs">MEDEIROS</tspan></text>
<text class="l"><tspan x="635.4" y="463.2" textLength="26.8" lengthAdjust="spacingAndGlyphs">VILA</tspan><tspan x="629.5" y="480.4" textLength="38.5" lengthAdjust="spacingAndGlyphs">MARIA</tspan></text>
<text class="l"><tspan x="555.9" y="450.8" textLength="26.8" lengthAdjust="spacingAndGlyphs">VILA</tspan><tspan x="534.0" y="467.9" textLength="70.6" lengthAdjust="spacingAndGlyphs">GUILHERME</tspan></text>
<text class="l" x="738.2" y="502.5" textLength="41.2" lengthAdjust="spacingAndGlyphs">PENHA</text>
<text class="l" x="532.4" y="511.2" textLength="27.2" lengthAdjust="spacingAndGlyphs">PARI</text>
<text class="l" x="580.9" y="539.5" textLength="41.2" lengthAdjust="spacingAndGlyphs">BELÉM</text>
<text class="l" x="643.9" y="534.5" textLength="53.8" lengthAdjust="spacingAndGlyphs">TATUAPÉ</text>
<text class="l"><tspan x="192.0" y="412.0" textLength="25.5" lengthAdjust="spacingAndGlyphs">SÃO</tspan><tspan x="172.1" y="429.1" textLength="65.3" lengthAdjust="spacingAndGlyphs">DOMINGOS</tspan></text>
<text class="l" x="175.9" y="472.5" textLength="58.2" lengthAdjust="spacingAndGlyphs">JAGUARA</text>
<text class="l" x="304.7" y="499.5" textLength="31.1" lengthAdjust="spacingAndGlyphs">LAPA</text>
<text class="l"><tspan x="227.1" y="508.8" textLength="26.8" lengthAdjust="spacingAndGlyphs">VILA</tspan><tspan x="202.0" y="525.9" textLength="77.1" lengthAdjust="spacingAndGlyphs">LEOPOLDINA</tspan></text>
<text class="l"><tspan x="371.0" y="486.8" textLength="42.5" lengthAdjust="spacingAndGlyphs">BARRA</tspan><tspan x="371.7" y="503.9" textLength="41.2" lengthAdjust="spacingAndGlyphs">FUNDA</tspan></text>
<text class="l" x="352.8" y="543.8" textLength="58.8" lengthAdjust="spacingAndGlyphs">PERDIZES</text>
<text class="l"><tspan x="276.0" y="560.8" textLength="50.5" lengthAdjust="spacingAndGlyphs">ALTO DE</tspan><tspan x="268.9" y="577.9" textLength="64.7" lengthAdjust="spacingAndGlyphs">PINHEIROS</tspan></text>
<text class="l" x="176.5" y="566.2" textLength="57.5" lengthAdjust="spacingAndGlyphs">JAGUARÉ</text>
<text class="l" x="376.5" y="575.0" textLength="84.9" lengthAdjust="spacingAndGlyphs">CONSOLAÇÃO</text>
<text class="l"><tspan x="429.7" y="506.8" textLength="39.6" lengthAdjust="spacingAndGlyphs">SANTA</tspan><tspan x="426.0" y="523.9" textLength="47.0" lengthAdjust="spacingAndGlyphs">CECÍLIA</tspan></text>
<text class="l"><tspan x="484.8" y="497.5" textLength="27.4" lengthAdjust="spacingAndGlyphs">BOM</tspan><tspan x="476.3" y="514.6" textLength="44.4" lengthAdjust="spacingAndGlyphs">RETIRO</tspan></text>
<text class="l"><tspan x="461.5" y="543.8" textLength="36.6" lengthAdjust="spacingAndGlyphs">REPÚ-</tspan><tspan x="461.8" y="560.9" textLength="35.9" lengthAdjust="spacingAndGlyphs">BLICA</tspan></text>
<text class="l" x="501.8" y="573.8" textLength="15.7" lengthAdjust="spacingAndGlyphs">SÉ</text>
<text class="l" x="527.4" y="559.2" textLength="33.3" lengthAdjust="spacingAndGlyphs">BRÁS</text>
<text class="l" x="575.9" y="588.8" textLength="45.1" lengthAdjust="spacingAndGlyphs">MOOCA</text>
<text class="l" x="532.2" y="614.2" textLength="55.5" lengthAdjust="spacingAndGlyphs">CAMBUCI</text>
<text class="l"><tspan x="447.5" y="595.8" textLength="32.0" lengthAdjust="spacingAndGlyphs">BELA</tspan><tspan x="446.6" y="612.9" textLength="33.8" lengthAdjust="spacingAndGlyphs">VISTA</tspan></text>
<text class="l"><tspan x="487.4" y="625.0" textLength="39.2" lengthAdjust="spacingAndGlyphs">LIBER-</tspan><tspan x="490.3" y="642.1" textLength="33.3" lengthAdjust="spacingAndGlyphs">DADE</tspan></text>
<text class="l"><tspan x="401.2" y="632.5" textLength="45.1" lengthAdjust="spacingAndGlyphs">JARDIM</tspan><tspan x="395.2" y="649.6" textLength="57.1" lengthAdjust="spacingAndGlyphs">PAULISTA</tspan></text>
<text class="l"><tspan x="641.2" y="613.0" textLength="34.6" lengthAdjust="spacingAndGlyphs">ÁGUA</tspan><tspan x="641.8" y="630.1" textLength="33.3" lengthAdjust="spacingAndGlyphs">RASA</tspan></text>
<text class="l"><tspan x="485.1" y="674.2" textLength="26.8" lengthAdjust="spacingAndGlyphs">VILA</tspan><tspan x="470.7" y="691.4" textLength="55.5" lengthAdjust="spacingAndGlyphs">MARIANA</tspan></text>
<text class="l" x="321.4" y="617.5" textLength="64.7" lengthAdjust="spacingAndGlyphs">PINHEIROS</text>
<text class="l" x="250.1" y="629.5" textLength="56.0" lengthAdjust="spacingAndGlyphs">BUTANTÃ</text>
<text class="l" x="285.3" y="695.5" textLength="57.5" lengthAdjust="spacingAndGlyphs">MORUMBI</text>
<text class="l"><tspan x="353.7" y="715.8" textLength="35.1" lengthAdjust="spacingAndGlyphs">ITAIM-</tspan><tspan x="359.5" y="732.9" textLength="23.5" lengthAdjust="spacingAndGlyphs">BIBI</tspan></text>
<text class="l" x="407.7" y="705.8" textLength="45.1" lengthAdjust="spacingAndGlyphs">MOEMA</text>
<text class="l" x="464.4" y="757.0" textLength="41.2" lengthAdjust="spacingAndGlyphs">SAÚDE</text>
<text class="l"><tspan x="392.1" y="788.8" textLength="43.8" lengthAdjust="spacingAndGlyphs">CAMPO</tspan><tspan x="397.7" y="805.9" textLength="32.7" lengthAdjust="spacingAndGlyphs">BELO</tspan></text>
<text class="l" x="547.1" y="694.0" textLength="57.5" lengthAdjust="spacingAndGlyphs">IPIRANGA</text>
<text class="l" x="509.6" y="814.2" textLength="54.2" lengthAdjust="spacingAndGlyphs">CURSINO</text>
<text class="l" x="286.6" y="835.8" textLength="88.2" lengthAdjust="spacingAndGlyphs">SANTO AMARO</text>
<text class="l" x="761.8" y="434.5" textLength="63.4" lengthAdjust="spacingAndGlyphs">CANGAÍBA</text>
<text class="l"><tspan x="856.1" y="408.8" textLength="62.1" lengthAdjust="spacingAndGlyphs">ERMELINO</tspan><tspan x="850.7" y="425.9" textLength="72.7" lengthAdjust="spacingAndGlyphs">MATARAZZO</tspan></text>
<text class="l"><tspan x="933.4" y="443.8" textLength="26.8" lengthAdjust="spacingAndGlyphs">VILA</tspan><tspan x="929.1" y="460.9" textLength="35.3" lengthAdjust="spacingAndGlyphs">JACUÍ</tspan></text>
<text class="l" x="822.0" y="478.0" textLength="77.1" lengthAdjust="spacingAndGlyphs">PONTE RASA</text>
<text class="l"><tspan x="797.6" y="538.0" textLength="26.8" lengthAdjust="spacingAndGlyphs">VILA</tspan><tspan x="785.3" y="555.1" textLength="51.4" lengthAdjust="spacingAndGlyphs">MATILDE</tspan></text>
<text class="l"><tspan x="863.0" y="549.2" textLength="42.5" lengthAdjust="spacingAndGlyphs">ARTUM</tspan><tspan x="866.4" y="566.4" textLength="35.7" lengthAdjust="spacingAndGlyphs">ALVIM</tspan></text>
<text class="l" x="927.2" y="538.8" textLength="60.5" lengthAdjust="spacingAndGlyphs">ITAQUERA</text>
<text class="l" x="719.2" y="575.0" textLength="51.6" lengthAdjust="spacingAndGlyphs">CARRÃO</text>
<text class="l"><tspan x="843.5" y="604.5" textLength="45.1" lengthAdjust="spacingAndGlyphs">CIDADE</tspan><tspan x="848.4" y="621.6" textLength="35.3" lengthAdjust="spacingAndGlyphs">LÍDER</tspan></text>
<text class="l"><tspan x="721.4" y="621.8" textLength="26.8" lengthAdjust="spacingAndGlyphs">VILA</tspan><tspan x="704.7" y="638.9" textLength="60.1" lengthAdjust="spacingAndGlyphs">FORMOSA</tspan></text>
<text class="l" x="769.7" y="656.8" textLength="78.2" lengthAdjust="spacingAndGlyphs">ARICANDUVA</text>
<text class="l"><tspan x="638.7" y="680.8" textLength="26.8" lengthAdjust="spacingAndGlyphs">VILA</tspan><tspan x="619.8" y="697.9" textLength="64.7" lengthAdjust="spacingAndGlyphs">PRUDENTE</tspan></text>
<text class="l"><tspan x="715.3" y="680.8" textLength="25.5" lengthAdjust="spacingAndGlyphs">SÃO</tspan><tspan x="707.7" y="697.9" textLength="40.5" lengthAdjust="spacingAndGlyphs">LUCAS</tspan></text>
<text class="l w" x="760.0" y="700.5" textLength="67.0" lengthAdjust="spacingAndGlyphs">SAPOPEMBA</text>
<text class="l"><tspan x="904.2" y="716.8" textLength="25.5" lengthAdjust="spacingAndGlyphs">SÃO</tspan><tspan x="892.5" y="733.9" textLength="48.8" lengthAdjust="spacingAndGlyphs">MATEUS</tspan></text>
<text class="l"><tspan x="915.2" y="639.2" textLength="49.4" lengthAdjust="spacingAndGlyphs">PARQUE</tspan><tspan x="907.2" y="656.4" textLength="65.3" lengthAdjust="spacingAndGlyphs">DO CARMO</tspan></text>
<text class="l w" x="571.4" y="791.2" textLength="52.3" lengthAdjust="spacingAndGlyphs">SACOMÃ</text>
<text class="l"><tspan x="1033.1" y="378.8" textLength="45.1" lengthAdjust="spacingAndGlyphs">JARDIM</tspan><tspan x="1031.4" y="395.9" textLength="48.4" lengthAdjust="spacingAndGlyphs">HELENA</tspan></text>
<text class="l"><tspan x="989.9" y="426.2" textLength="25.5" lengthAdjust="spacingAndGlyphs">SÃO</tspan><tspan x="979.7" y="443.4" textLength="45.7" lengthAdjust="spacingAndGlyphs">MIGUEL</tspan></text>
<text class="l"><tspan x="1048.2" y="451.8" textLength="26.8" lengthAdjust="spacingAndGlyphs">VILA</tspan><tspan x="1036.1" y="468.9" textLength="51.0" lengthAdjust="spacingAndGlyphs">CURUÇÁ</tspan></text>
<text class="l w"><tspan x="1121.3" y="435.0" textLength="31.1" lengthAdjust="spacingAndGlyphs">ITAIM</tspan><tspan x="1108.4" y="452.1" textLength="57.1" lengthAdjust="spacingAndGlyphs">PAULISTA</tspan></text>
<text class="l" x="1050.3" y="533.0" textLength="56.2" lengthAdjust="spacingAndGlyphs">LAJEADO</text>
<text class="l" x="1054.3" y="591.2" textLength="78.4" lengthAdjust="spacingAndGlyphs">GUAIANASES</text>
<text class="l"><tspan x="1003.3" y="609.5" textLength="31.4" lengthAdjust="spacingAndGlyphs">JOSÉ</tspan><tspan x="986.0" y="626.6" textLength="66.0" lengthAdjust="spacingAndGlyphs">BONIFÁCIO</tspan></text>
<text class="l"><tspan x="1085.2" y="670.0" textLength="45.1" lengthAdjust="spacingAndGlyphs">CIDADE</tspan><tspan x="1070.2" y="687.1" textLength="75.1" lengthAdjust="spacingAndGlyphs">TIRADENTES</tspan></text>
<text class="l w" x="1003.6" y="746.2" textLength="56.6" lengthAdjust="spacingAndGlyphs">IGUATEMI</text>
<text class="l w"><tspan x="951.4" y="788.0" textLength="25.5" lengthAdjust="spacingAndGlyphs">SÃO</tspan><tspan x="940.6" y="805.1" textLength="47.0" lengthAdjust="spacingAndGlyphs">RAFAEL</tspan></text>
<text class="l"><tspan x="172.5" y="626.8" textLength="20.9" lengthAdjust="spacingAndGlyphs">RIO</tspan><tspan x="153.6" y="643.9" textLength="58.8" lengthAdjust="spacingAndGlyphs">PEQUENO</tspan></text>
<text class="l"><tspan x="86.4" y="683.8" textLength="51.0" lengthAdjust="spacingAndGlyphs">RAPOSO</tspan><tspan x="85.1" y="700.9" textLength="53.6" lengthAdjust="spacingAndGlyphs">TAVARES</tspan></text>
<text class="l"><tspan x="221.1" y="711.2" textLength="26.8" lengthAdjust="spacingAndGlyphs">VILA</tspan><tspan x="215.9" y="728.4" textLength="37.2" lengthAdjust="spacingAndGlyphs">SÔNIA</tspan></text>
<text class="l w"><tspan x="245.4" y="776.8" textLength="26.8" lengthAdjust="spacingAndGlyphs">VILA</tspan><tspan x="229.3" y="793.9" textLength="58.8" lengthAdjust="spacingAndGlyphs">ANDRADE</tspan></text>
<text class="l w"><tspan x="153.1" y="808.2" textLength="43.8" lengthAdjust="spacingAndGlyphs">CAMPO</tspan><tspan x="156.4" y="825.4" textLength="37.2" lengthAdjust="spacingAndGlyphs">LIMPO</tspan></text>
<text class="l w"><tspan x="105.2" y="894.5" textLength="42.5" lengthAdjust="spacingAndGlyphs">CAPÃO</tspan><tspan x="96.3" y="911.6" textLength="60.1" lengthAdjust="spacingAndGlyphs">REDONDO</tspan></text>
<text class="l w"><tspan x="209.2" y="896.8" textLength="45.1" lengthAdjust="spacingAndGlyphs">JARDIM</tspan><tspan x="219.0" y="913.9" textLength="25.5" lengthAdjust="spacingAndGlyphs">SÃO</tspan><tspan x="218.4" y="931.0" textLength="26.8" lengthAdjust="spacingAndGlyphs">LUÍS</tspan></text>
<text class="l" x="269.9" y="953.8" textLength="60.8" lengthAdjust="spacingAndGlyphs">SOCORRO</text>
<text class="l"><tspan x="342.6" y="918.2" textLength="43.8" lengthAdjust="spacingAndGlyphs">CAMPO</tspan><tspan x="339.0" y="935.4" textLength="51.0" lengthAdjust="spacingAndGlyphs">GRANDE</tspan></text>
<text class="l w" x="420.5" y="857.5" textLength="75.1" lengthAdjust="spacingAndGlyphs">JABAQUARA</text>
<text class="l w"><tspan x="424.0" y="926.2" textLength="45.1" lengthAdjust="spacingAndGlyphs">CIDADE</tspan><tspan x="420.7" y="943.4" textLength="51.6" lengthAdjust="spacingAndGlyphs">ADEMAR</tspan></text>
<text class="l w" x="440.4" y="1020.8" textLength="60.8" lengthAdjust="spacingAndGlyphs">PEDREIRA</text>
<text class="l w" x="287.9" y="1045.0" textLength="89.5" lengthAdjust="spacingAndGlyphs">CIDADE DUTRA</text>
<text class="l w" x="100.0" y="1056.0" textLength="98.0" lengthAdjust="spacingAndGlyphs">JARDIM ÂNGELA</text>
<text class="l w" x="393.5" y="1256.7" textLength="49.7" lengthAdjust="spacingAndGlyphs">GRAJAÚ</text>
<text class="l w" x="236.0" y="1415.0" textLength="84.1" lengthAdjust="spacingAndGlyphs">PARELHEIROS</text>
<text class="l" x="271.8" y="1589.3" textLength="62.1" lengthAdjust="spacingAndGlyphs">MARSILAC</text>
</g>
<g id="headline">
<circle cx="8.4" cy="13" r="7.3" fill="#1f140f"/>
<text x="23.6" y="19.9" textLength="322.2" lengthAdjust="spacingAndGlyphs" style="font-size:23.4px;font-weight:bold;stroke:#1f140f;stroke-width:0.5;stroke-linejoin:round">Fila da creche não diminuiu</text>
<text x="1.6" y="50.7" textLength="404.7" lengthAdjust="spacingAndGlyphs" style="font-size:23.4px;font-weight:bold;stroke:#1f140f;stroke-width:0.5;stroke-linejoin:round">desde o começo da gestão Haddad</text>
</g>
<g id="legend">
<text x="789.5" y="61.4" textLength="271.0" lengthAdjust="spacingAndGlyphs" style="font-size:30px;font-weight:bold;stroke:#1f140f;stroke-width:1.2;stroke-linejoin:round">Demanda de creche</text>
<text x="789.0" y="90.0" textLength="331.0" lengthAdjust="spacingAndGlyphs" style="font-size:17px;font-weight:normal;stroke:#1f140f;stroke-width:0.25;stroke-linejoin:round">NÚMERO DE CRIANÇAS NA FILA POR DISTRITO</text>
<rect x="790.0" y="116.3" width="21" height="21" fill="#FBF3B0"/>
<rect x="790.0" y="151.7" width="21" height="21" fill="#FACD66"/>
<rect x="790.0" y="187.3" width="21" height="21" fill="#EE9349"/>
<rect x="991.8" y="116.3" width="21" height="21" fill="#E5542A"/>
<rect x="991.8" y="151.7" width="21" height="21" fill="#9C0E27"/>
<rect x="991.8" y="187.3" width="21" height="21" fill="#1F120E"/>
<text x="821.0" y="133.3" textLength="87.3" lengthAdjust="spacingAndGlyphs" style="font-size:17.5px;font-weight:bold;stroke:#1f140f;stroke-width:0.7;stroke-linejoin:round">DE 1 A 100</text>
<text x="821.0" y="169.3" textLength="108.3" lengthAdjust="spacingAndGlyphs" style="font-size:17.5px;font-weight:bold;stroke:#1f140f;stroke-width:0.7;stroke-linejoin:round">DE 101 A 500</text>
<text x="821.0" y="205.6" textLength="124.0" lengthAdjust="spacingAndGlyphs" style="font-size:17.5px;font-weight:bold;stroke:#1f140f;stroke-width:0.7;stroke-linejoin:round">DE 501 A 1.000</text>
<text x="1022.7" y="133.3" textLength="138.0" lengthAdjust="spacingAndGlyphs" style="font-size:17.5px;font-weight:bold;stroke:#1f140f;stroke-width:0.7;stroke-linejoin:round">DE 1.001 A 1.999</text>
<text x="1022.7" y="169.3" textLength="141.6" lengthAdjust="spacingAndGlyphs" style="font-size:17.5px;font-weight:bold;stroke:#1f140f;stroke-width:0.7;stroke-linejoin:round">DE 2.000 A 7.999</text>
<text x="1022.7" y="205.6" textLength="45.0" lengthAdjust="spacingAndGlyphs" style="font-size:17.5px;font-weight:bold;stroke:#1f140f;stroke-width:0.7;stroke-linejoin:round">8.018</text>
</g>
<g>
<text x="617.0" y="949.3" textLength="66.8" lengthAdjust="spacingAndGlyphs" style="font-size:27.6px;font-weight:bold;stroke:#1f140f;stroke-width:1.2;stroke-linejoin:round">Filas</text>
<text x="617.0" y="986.0" textLength="100.3" lengthAdjust="spacingAndGlyphs" style="font-size:16.2px;font-weight:normal;stroke:#1f140f;stroke-width:0.2;stroke-linejoin:round">EM MILHARES</text>
<rect x="750.7" y="979.0" width="23.3" height="7.3" fill="#8FA463"/>
<text x="780.7" y="986.3" textLength="72.6" lengthAdjust="spacingAndGlyphs" style="font-size:15px;font-weight:bold;stroke:#1f140f;stroke-width:0.6;stroke-linejoin:round">CRECHES</text>
<rect x="888.3" y="979.0" width="23.3" height="7.3" fill="#C7D4AB"/>
<text x="918.3" y="986.3" textLength="99.4" lengthAdjust="spacingAndGlyphs" style="font-size:15px;font-weight:bold;stroke:#1f140f;stroke-width:0.6;stroke-linejoin:round">PRÉ-ESCOLA</text>
<polygon points="677.3,1077.3 725.0,1058.3 773.3,1079.3 821.7,1071.7 870.0,1026.7 918.3,1028.3 966.7,1042.7 1015.0,1041.7 1064.3,1044.3 1064.3,1143.3 1015.0,1141.7 966.7,1140.0 918.3,1149.0 870.0,1141.7 821.7,1119.3 773.3,1122.7 725.0,1112.3 677.3,1111.7" fill="#EFF0F3"/>
<line x1="649.3" y1="1031.7" x2="1085.0" y2="1031.7" stroke="#98989e" stroke-width="1.3"/>
<text x="615.7" y="1037.5" textLength="26.0" lengthAdjust="spacingAndGlyphs" style="font-size:16.2px;font-weight:normal;stroke:#1f140f;stroke-width:0.5;stroke-linejoin:round">140</text>
<line x1="649.3" y1="1093.3" x2="1085.0" y2="1093.3" stroke="#98989e" stroke-width="1.3"/>
<text x="623.7" y="1099.1" textLength="18.0" lengthAdjust="spacingAndGlyphs" style="font-size:16.2px;font-weight:normal;stroke:#1f140f;stroke-width:0.5;stroke-linejoin:round">70</text>
<line x1="649.3" y1="1154.0" x2="1085.0" y2="1154.0" stroke="#98989e" stroke-width="1.3"/>
<text x="632.2" y="1159.8" textLength="9.5" lengthAdjust="spacingAndGlyphs" style="font-size:16.2px;font-weight:normal;stroke:#1f140f;stroke-width:0.5;stroke-linejoin:round">0</text>
<line x1="677.3" y1="1077.0" x2="677.3" y2="1154.0" stroke="#98989e" stroke-width="1.3"/>
<line x1="1064.3" y1="1143.3" x2="1064.3" y2="1154.0" stroke="#98989e" stroke-width="1.3"/>
<polyline points="677.3,1111.7 725.0,1112.3 773.3,1122.7 821.7,1119.3 870.0,1141.7 918.3,1149.0 966.7,1140.0 1015.0,1141.7 1064.3,1143.3" fill="none" stroke="#C7D4AB" stroke-width="4.6" stroke-linejoin="round" stroke-linecap="round"/>
<polyline points="677.3,1077.3 725.0,1058.3 773.3,1079.3 821.7,1071.7 870.0,1026.7 918.3,1028.3 966.7,1042.7 1015.0,1041.7 1064.3,1044.3" fill="none" stroke="#8FA463" stroke-width="4.6" stroke-linejoin="round" stroke-linecap="round"/>
<circle cx="1064.3" cy="1143.3" r="14.4" fill="#fff"/>
<circle cx="1064.3" cy="1043.3" r="14.4" fill="#fff"/>
<circle cx="1064.3" cy="1143.3" r="11.1" fill="#C7D4AB"/>
<circle cx="1064.3" cy="1043.3" r="11.1" fill="#8FA463"/>
<text x="1086.0" y="1061.7" textLength="68.0" lengthAdjust="spacingAndGlyphs" style="font-size:25.5px;font-weight:bold;stroke:#1f140f;stroke-width:1.1;stroke-linejoin:round">124,7</text>
<text x="1086.0" y="1139.3" textLength="53.3" lengthAdjust="spacingAndGlyphs" style="font-size:25.5px;font-weight:bold;stroke:#1f140f;stroke-width:1.1;stroke-linejoin:round">10,7</text>
<text x="664.3" y="1178.6" textLength="26.2" lengthAdjust="spacingAndGlyphs" style="font-size:16.5px;font-weight:normal;stroke:#1f140f;stroke-width:0.3;stroke-linejoin:round">JUN</text>
<text x="664.3" y="1197.6" textLength="34.7" lengthAdjust="spacingAndGlyphs" style="font-size:16.5px;font-weight:normal;stroke:#1f140f;stroke-width:0.3;stroke-linejoin:round">2007</text>
<text x="1050.7" y="1178.6" textLength="26.3" lengthAdjust="spacingAndGlyphs" style="font-size:16.5px;font-weight:normal;stroke:#1f140f;stroke-width:0.3;stroke-linejoin:round">JUN</text>
<text x="1050.7" y="1197.6" textLength="33.6" lengthAdjust="spacingAndGlyphs" style="font-size:16.5px;font-weight:normal;stroke:#1f140f;stroke-width:0.3;stroke-linejoin:round">2015</text>
</g>
<g>
<text x="617.0" y="1290.0" textLength="160.2" lengthAdjust="spacingAndGlyphs" style="font-size:27.6px;font-weight:bold;stroke:#1f140f;stroke-width:1.2;stroke-linejoin:round">Matrículas*</text>
<text x="617.0" y="1332.7" textLength="100.3" lengthAdjust="spacingAndGlyphs" style="font-size:16.2px;font-weight:normal;stroke:#1f140f;stroke-width:0.2;stroke-linejoin:round">EM MILHARES</text>
<rect x="750.7" y="1325.2" width="23.3" height="7.3" fill="#8FA463"/>
<text x="780.7" y="1333.0" textLength="72.6" lengthAdjust="spacingAndGlyphs" style="font-size:15px;font-weight:bold;stroke:#1f140f;stroke-width:0.6;stroke-linejoin:round">CRECHES</text>
<rect x="888.3" y="1325.2" width="23.3" height="7.3" fill="#C7D4AB"/>
<text x="918.3" y="1333.0" textLength="99.4" lengthAdjust="spacingAndGlyphs" style="font-size:15px;font-weight:bold;stroke:#1f140f;stroke-width:0.6;stroke-linejoin:round">PRÉ-ESCOLA</text>
<polygon points="677.3,1608.3 725.0,1586.0 773.3,1571.7 821.7,1566.0 868.3,1507.7 918.3,1496.0 966.7,1491.7 1015.0,1482.0 1064.3,1466.0 1064.3,1497.5 1015.0,1499.3 966.7,1501.0 918.3,1515.3 868.3,1513.3 821.7,1424.0 773.3,1406.7 725.0,1401.0 677.3,1392.7" fill="#EFF0F3"/>
<line x1="650.7" y1="1372.0" x2="1091.7" y2="1372.0" stroke="#98989e" stroke-width="1.3"/>
<text x="615.7" y="1377.8" textLength="26.0" lengthAdjust="spacingAndGlyphs" style="font-size:16.2px;font-weight:normal;stroke:#1f140f;stroke-width:0.5;stroke-linejoin:round">350</text>
<line x1="650.7" y1="1432.7" x2="1091.7" y2="1432.7" stroke="#98989e" stroke-width="1.3"/>
<text x="615.7" y="1438.5" textLength="26.0" lengthAdjust="spacingAndGlyphs" style="font-size:16.2px;font-weight:normal;stroke:#1f140f;stroke-width:0.5;stroke-linejoin:round">280</text>
<line x1="650.7" y1="1494.0" x2="1091.7" y2="1494.0" stroke="#98989e" stroke-width="1.3"/>
<text x="615.7" y="1499.8" textLength="26.0" lengthAdjust="spacingAndGlyphs" style="font-size:16.2px;font-weight:normal;stroke:#1f140f;stroke-width:0.5;stroke-linejoin:round">210</text>
<line x1="650.7" y1="1554.7" x2="1091.7" y2="1554.7" stroke="#98989e" stroke-width="1.3"/>
<text x="615.7" y="1560.5" textLength="26.0" lengthAdjust="spacingAndGlyphs" style="font-size:16.2px;font-weight:normal;stroke:#1f140f;stroke-width:0.5;stroke-linejoin:round">140</text>
<line x1="650.7" y1="1615.3" x2="1091.7" y2="1615.3" stroke="#98989e" stroke-width="1.3"/>
<text x="623.7" y="1621.1" textLength="18.0" lengthAdjust="spacingAndGlyphs" style="font-size:16.2px;font-weight:normal;stroke:#1f140f;stroke-width:0.5;stroke-linejoin:round">70</text>
<line x1="650.7" y1="1676.3" x2="1091.7" y2="1676.3" stroke="#98989e" stroke-width="1.3"/>
<text x="632.2" y="1682.1" textLength="9.5" lengthAdjust="spacingAndGlyphs" style="font-size:16.2px;font-weight:normal;stroke:#1f140f;stroke-width:0.5;stroke-linejoin:round">0</text>
<line x1="677.3" y1="1392.0" x2="677.3" y2="1676.3" stroke="#98989e" stroke-width="1.3"/>
<line x1="1064.3" y1="1495.7" x2="1064.3" y2="1676.3" stroke="#98989e" stroke-width="1.3"/>
<polyline points="677.3,1392.7 725.0,1401.0 773.3,1406.7 821.7,1424.0 868.3,1513.3 918.3,1515.3 966.7,1501.0 1015.0,1499.3 1064.3,1497.5" fill="none" stroke="#C7D4AB" stroke-width="4.6" stroke-linejoin="round" stroke-linecap="round"/>
<polyline points="677.3,1608.3 725.0,1586.0 773.3,1571.7 821.7,1566.0 868.3,1507.7 918.3,1496.0 966.7,1491.7 1015.0,1482.0 1064.3,1466.0" fill="none" stroke="#8FA463" stroke-width="4.6" stroke-linejoin="round" stroke-linecap="round"/>
<circle cx="1064.3" cy="1495.7" r="14.4" fill="#fff"/>
<circle cx="1064.3" cy="1463.3" r="14.4" fill="#fff"/>
<circle cx="1064.3" cy="1495.7" r="11.1" fill="#C7D4AB"/>
<circle cx="1064.3" cy="1463.3" r="11.1" fill="#8FA463"/>
<text x="1086.0" y="1464.0" textLength="72.3" lengthAdjust="spacingAndGlyphs" style="font-size:25.5px;font-weight:bold;stroke:#1f140f;stroke-width:1.1;stroke-linejoin:round">240,8</text>
<text x="1086.0" y="1524.0" textLength="70.7" lengthAdjust="spacingAndGlyphs" style="font-size:25.5px;font-weight:bold;stroke:#1f140f;stroke-width:1.1;stroke-linejoin:round">204,7</text>
<text x="664.3" y="1699.0" textLength="26.2" lengthAdjust="spacingAndGlyphs" style="font-size:16.5px;font-weight:normal;stroke:#1f140f;stroke-width:0.3;stroke-linejoin:round">JUN</text>
<text x="664.3" y="1718.0" textLength="34.7" lengthAdjust="spacingAndGlyphs" style="font-size:16.5px;font-weight:normal;stroke:#1f140f;stroke-width:0.3;stroke-linejoin:round">2007</text>
<text x="1050.7" y="1699.0" textLength="26.3" lengthAdjust="spacingAndGlyphs" style="font-size:16.5px;font-weight:normal;stroke:#1f140f;stroke-width:0.3;stroke-linejoin:round">JUN</text>
<text x="1050.7" y="1718.0" textLength="33.6" lengthAdjust="spacingAndGlyphs" style="font-size:16.5px;font-weight:normal;stroke:#1f140f;stroke-width:0.3;stroke-linejoin:round">2015</text>
</g>
<g id="footnote">
<text x="617.3" y="1766.0" textLength="461.5" lengthAdjust="spacingAndGlyphs" style="font-size:16.8px;font-weight:normal;stroke:#1f140f;stroke-width:0.3;stroke-linejoin:round">*Em 2011 houve mudança na duração do Ensino Fundamental</text>
<text x="617.3" y="1786.0" textLength="174.2" lengthAdjust="spacingAndGlyphs" style="font-size:16.8px;font-weight:normal;stroke:#1f140f;stroke-width:0.3;stroke-linejoin:round">e da Pré-Escola no País</text>
</g>
</svg>
</body>
</html>
